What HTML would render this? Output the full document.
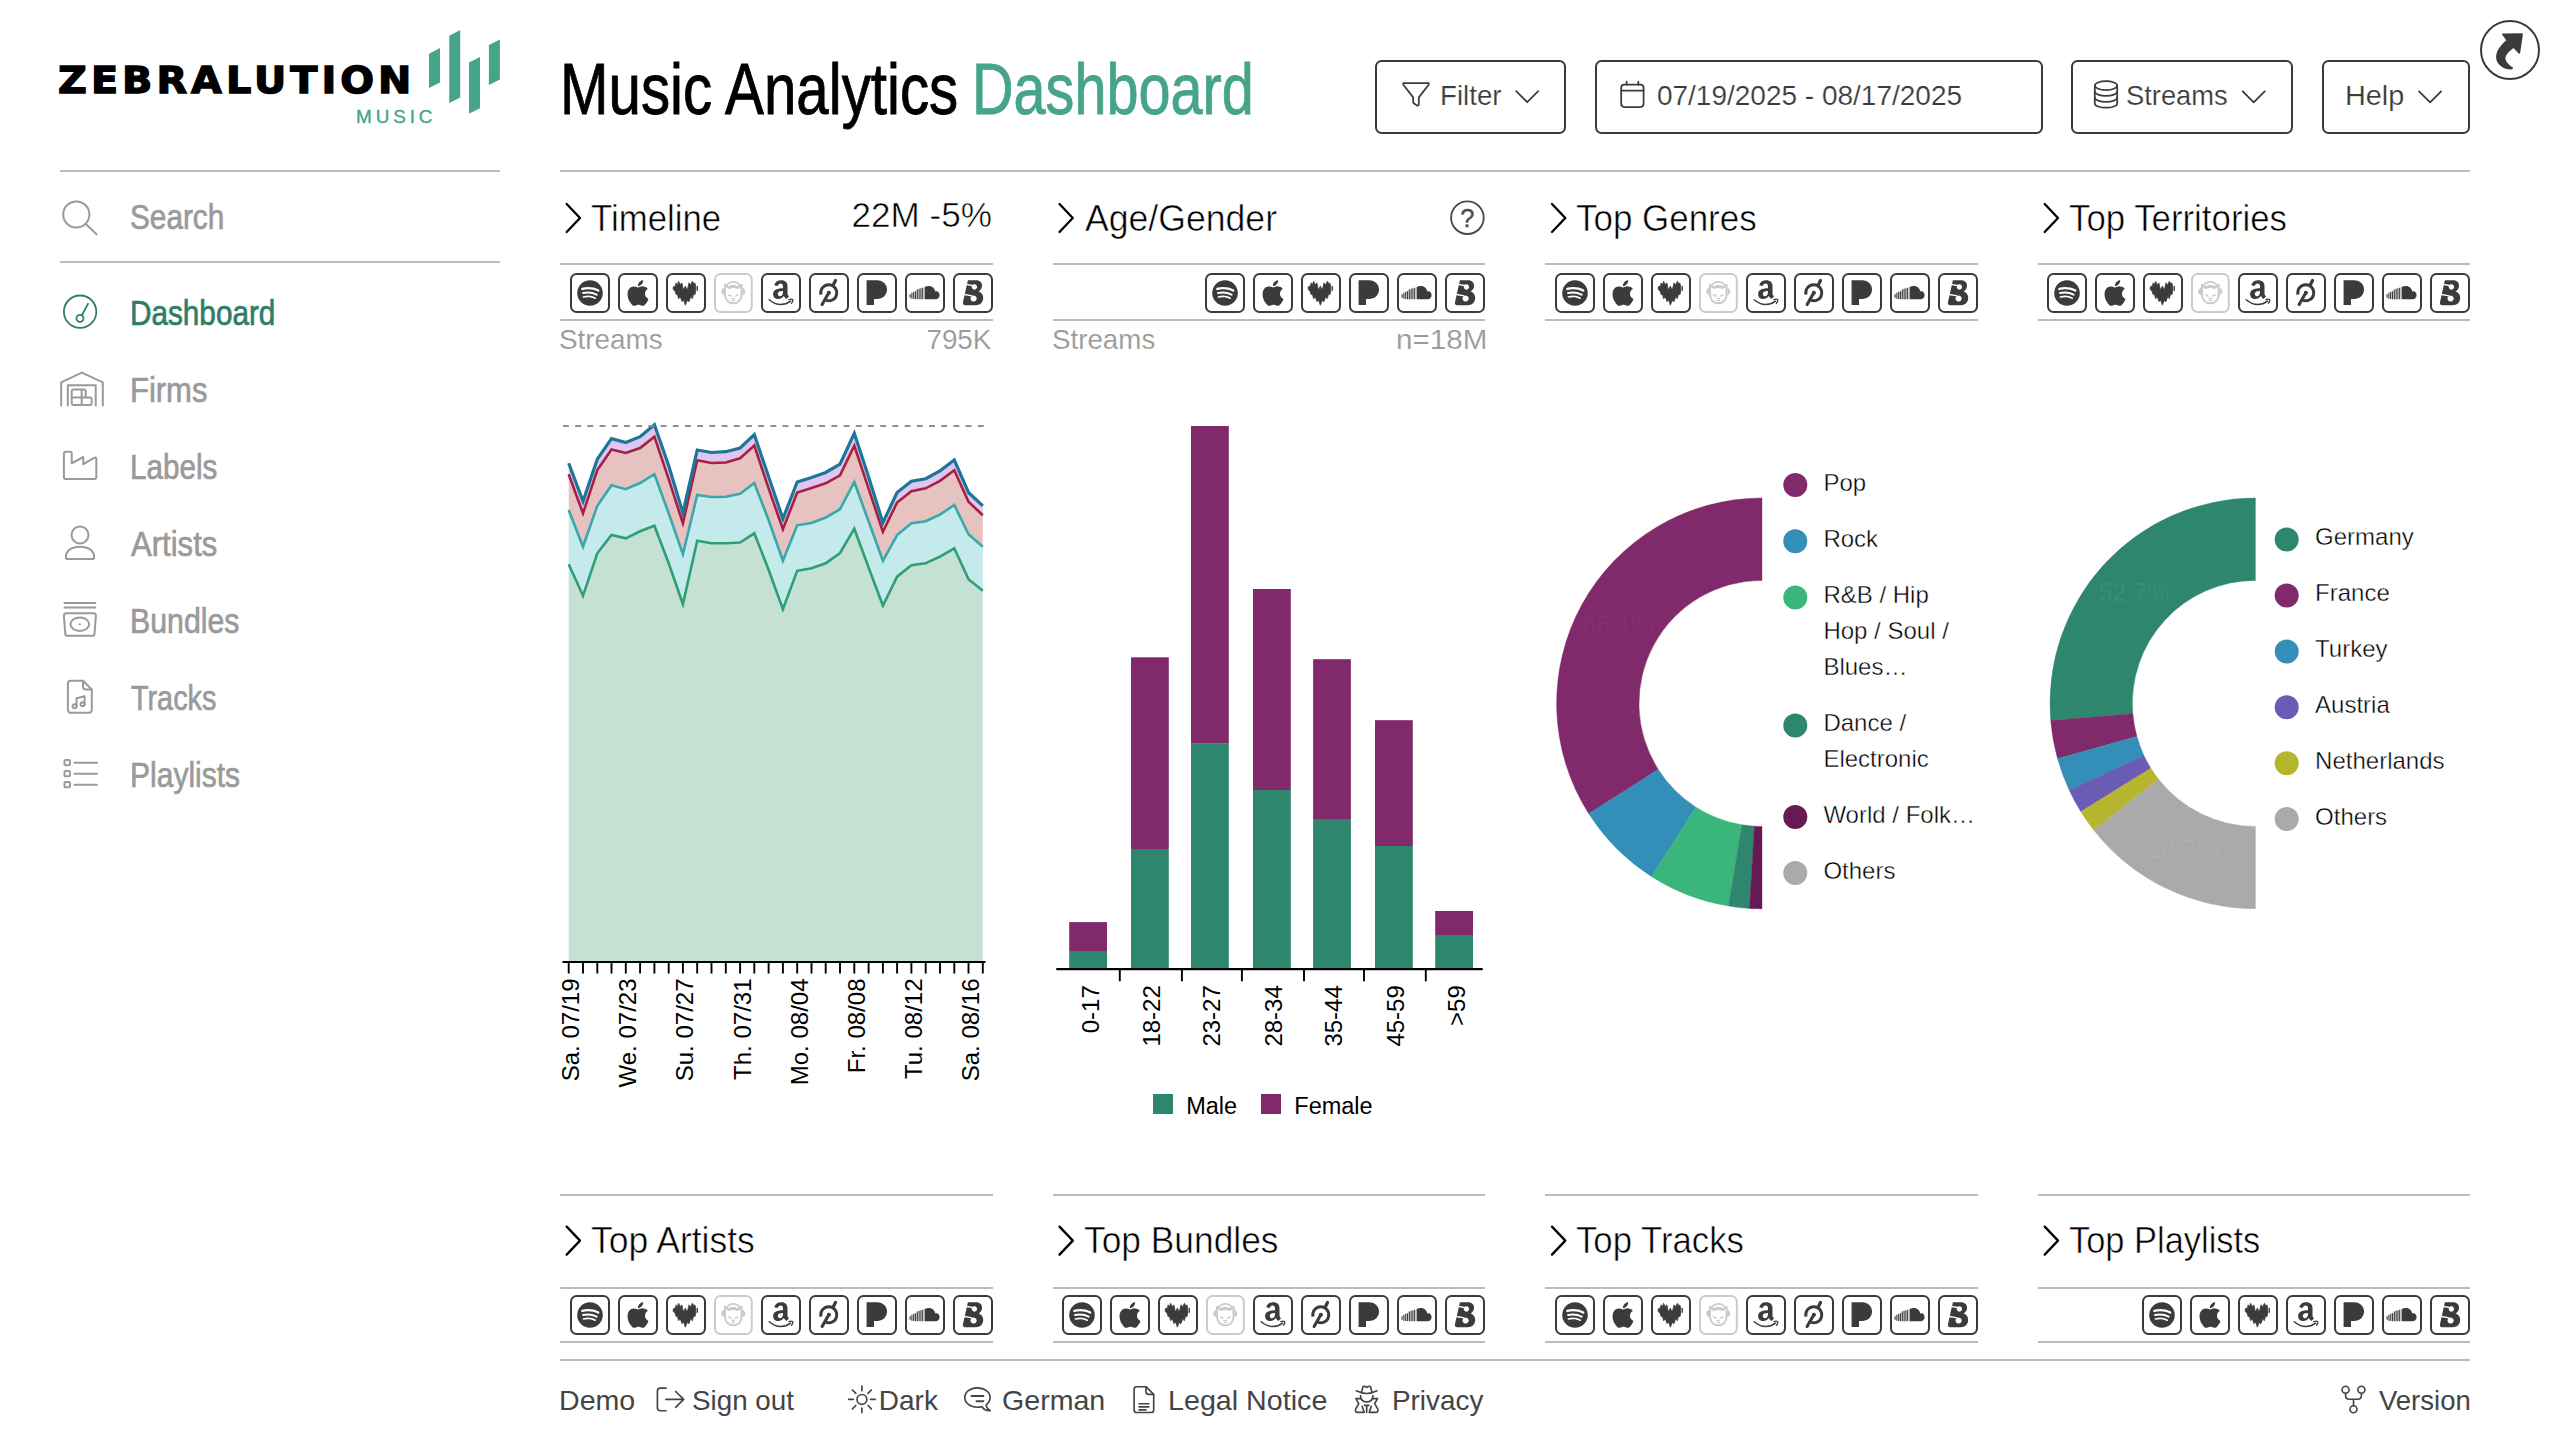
<!DOCTYPE html>
<html lang="en"><head><meta charset="utf-8"><title>Music Analytics Dashboard</title>
<style>
html,body{margin:0;padding:0}
body{width:2560px;height:1440px;position:relative;overflow:hidden;background:#fff;font-family:"Liberation Sans",sans-serif;color:#000}
aside,header,main,footer,section,nav{position:absolute;left:0;top:0;margin:0}
.hl{position:absolute}
.svc{position:absolute;display:block}
.btn{position:absolute;box-sizing:border-box;border:2px solid #3b3b3b;border-radius:6.500px;background:transparent;top:60px;height:74px}
svg.ov{position:absolute;left:0;top:0;display:block}
.logo{position:absolute;left:58.000px;top:58.700px;font-family:"DejaVu Sans","Liberation Sans",sans-serif;font-weight:bold;font-size:36.500px;line-height:44px;letter-spacing:3.700px;-webkit-text-stroke:1.300px #000;transform:scaleX(1.090);transform-origin:left center;white-space:nowrap;color:#000}
.logo2{position:absolute;left:356px;top:106.500px;font-size:18.900px;line-height:19px;letter-spacing:3.900px;color:#46a48b;white-space:nowrap;-webkit-text-stroke:.35px #46a48b}
</style></head><body>
<svg class="ov" width="2560" height="1440" viewBox="0 0 2560 1440">
<polygon points="568.7,564.2 583.0,595.8 597.3,553.3 611.5,535.0 625.8,538.3 640.1,531.3 654.4,525.8 668.7,563.3 682.9,604.2 697.2,540.8 711.5,543.3 725.8,543.3 740.1,542.5 754.3,533.3 768.6,569.7 782.9,609.2 797.2,570.8 811.5,568.3 825.7,563.3 840.0,553.0 854.3,528.7 868.6,567.5 882.9,605.8 897.1,576.7 911.4,565.3 925.7,563.3 940.0,556.7 954.3,548.3 968.5,579.2 982.8,590.8 982.8,961.5 568.7,961.5" fill="#c5e1d3"/>
<polygon points="568.7,510.0 583.0,546.7 597.3,505.8 611.5,485.3 625.8,489.2 640.1,483.0 654.4,474.2 668.7,513.3 682.9,554.2 697.2,495.0 711.5,497.0 725.8,496.7 740.1,493.8 754.3,483.0 768.6,520.0 782.9,560.8 797.2,525.3 811.5,523.0 825.7,517.5 840.0,509.2 854.3,482.0 868.6,521.3 882.9,560.8 897.1,535.0 911.4,523.3 925.7,521.3 940.0,514.7 954.3,505.0 968.5,534.2 982.8,546.7 982.8,590.8 968.5,579.2 954.3,548.3 940.0,556.7 925.7,563.3 911.4,565.3 897.1,576.7 882.9,605.8 868.6,567.5 854.3,528.7 840.0,553.0 825.7,563.3 811.5,568.3 797.2,570.8 782.9,609.2 768.6,569.7 754.3,533.3 740.1,542.5 725.8,543.3 711.5,543.3 697.2,540.8 682.9,604.2 668.7,563.3 654.4,525.8 640.1,531.3 625.8,538.3 611.5,535.0 597.3,553.3 583.0,595.8 568.7,564.2" fill="#c4eaec"/>
<polygon points="568.7,474.2 583.0,513.3 597.3,470.0 611.5,449.5 625.8,453.0 640.1,448.0 654.4,436.7 668.7,479.2 682.9,523.3 697.2,460.3 711.5,463.0 725.8,462.5 740.1,458.3 754.3,445.5 768.6,488.3 782.9,529.2 797.2,492.5 811.5,488.0 825.7,483.3 840.0,475.3 854.3,445.8 868.6,488.7 882.9,531.7 897.1,502.5 911.4,491.3 925.7,488.3 940.0,480.8 954.3,470.3 968.5,501.7 982.8,515.3 982.8,546.7 968.5,534.2 954.3,505.0 940.0,514.7 925.7,521.3 911.4,523.3 897.1,535.0 882.9,560.8 868.6,521.3 854.3,482.0 840.0,509.2 825.7,517.5 811.5,523.0 797.2,525.3 782.9,560.8 768.6,520.0 754.3,483.0 740.1,493.8 725.8,496.7 711.5,497.0 697.2,495.0 682.9,554.2 668.7,513.3 654.4,474.2 640.1,483.0 625.8,489.2 611.5,485.3 597.3,505.8 583.0,546.7 568.7,510.0" fill="#e6c3c1"/>
<polygon points="568.7,463.3 583.0,501.3 597.3,459.2 611.5,438.7 625.8,442.5 640.1,436.7 654.4,424.7 668.7,465.8 682.9,513.0 697.2,450.0 711.5,452.5 725.8,451.7 740.1,448.0 754.3,434.7 768.6,476.7 782.9,518.8 797.2,482.0 811.5,477.5 825.7,472.5 840.0,464.2 854.3,433.3 868.6,477.0 882.9,522.7 897.1,492.5 911.4,481.3 925.7,478.7 940.0,470.8 954.3,460.0 968.5,492.5 982.8,505.8 982.8,515.3 968.5,501.7 954.3,470.3 940.0,480.8 925.7,488.3 911.4,491.3 897.1,502.5 882.9,531.7 868.6,488.7 854.3,445.8 840.0,475.3 825.7,483.3 811.5,488.0 797.2,492.5 782.9,529.2 768.6,488.3 754.3,445.5 740.1,458.3 725.8,462.5 711.5,463.0 697.2,460.3 682.9,523.3 668.7,479.2 654.4,436.7 640.1,448.0 625.8,453.0 611.5,449.5 597.3,470.0 583.0,513.3 568.7,474.2" fill="#dfc6f0"/>
<polyline points="568.7,564.2 583.0,595.8 597.3,553.3 611.5,535.0 625.8,538.3 640.1,531.3 654.4,525.8 668.7,563.3 682.9,604.2 697.2,540.8 711.5,543.3 725.8,543.3 740.1,542.5 754.3,533.3 768.6,569.7 782.9,609.2 797.2,570.8 811.5,568.3 825.7,563.3 840.0,553.0 854.3,528.7 868.6,567.5 882.9,605.8 897.1,576.7 911.4,565.3 925.7,563.3 940.0,556.7 954.3,548.3 968.5,579.2 982.8,590.8" fill="none" stroke="#2f9e74" stroke-width="2.600"/>
<polyline points="568.7,510.0 583.0,546.7 597.3,505.8 611.5,485.3 625.8,489.2 640.1,483.0 654.4,474.2 668.7,513.3 682.9,554.2 697.2,495.0 711.5,497.0 725.8,496.7 740.1,493.8 754.3,483.0 768.6,520.0 782.9,560.8 797.2,525.3 811.5,523.0 825.7,517.5 840.0,509.2 854.3,482.0 868.6,521.3 882.9,560.8 897.1,535.0 911.4,523.3 925.7,521.3 940.0,514.7 954.3,505.0 968.5,534.2 982.8,546.7" fill="none" stroke="#3aa7ab" stroke-width="2.600"/>
<polyline points="568.7,474.2 583.0,513.3 597.3,470.0 611.5,449.5 625.8,453.0 640.1,448.0 654.4,436.7 668.7,479.2 682.9,523.3 697.2,460.3 711.5,463.0 725.8,462.5 740.1,458.3 754.3,445.5 768.6,488.3 782.9,529.2 797.2,492.5 811.5,488.0 825.7,483.3 840.0,475.3 854.3,445.8 868.6,488.7 882.9,531.7 897.1,502.5 911.4,491.3 925.7,488.3 940.0,480.8 954.3,470.3 968.5,501.7 982.8,515.3" fill="none" stroke="#a5213f" stroke-width="2.600"/>
<polyline points="568.7,463.3 583.0,501.3 597.3,459.2 611.5,438.7 625.8,442.5 640.1,436.7 654.4,424.7 668.7,465.8 682.9,513.0 697.2,450.0 711.5,452.5 725.8,451.7 740.1,448.0 754.3,434.7 768.6,476.7 782.9,518.8 797.2,482.0 811.5,477.5 825.7,472.5 840.0,464.2 854.3,433.3 868.6,477.0 882.9,522.7 897.1,492.5 911.4,481.3 925.7,478.7 940.0,470.8 954.3,460.0 968.5,492.5 982.8,505.8" fill="none" stroke="#1f7597" stroke-width="3.200"/>
<path d="M563 426H986" stroke="#8f8f8f" stroke-width="1.900" stroke-dasharray="5.900 6.300" fill="none"/>
<path d="M562.500 962H985.500" stroke="#000" stroke-width="2.200" fill="none"/>
<path d="M568.7 962V973.500M583.0 962V973.500M597.3 962V973.500M611.5 962V973.500M625.8 962V973.500M640.1 962V973.500M654.4 962V973.500M668.7 962V973.500M682.9 962V973.500M697.2 962V973.500M711.5 962V973.500M725.8 962V973.500M740.1 962V973.500M754.3 962V973.500M768.6 962V973.500M782.9 962V973.500M797.2 962V973.500M811.5 962V973.500M825.7 962V973.500M840.0 962V973.500M854.3 962V973.500M868.6 962V973.500M882.9 962V973.500M897.1 962V973.500M911.4 962V973.500M925.7 962V973.500M940.0 962V973.500M954.3 962V973.500M968.5 962V973.500M982.8 962V973.500" stroke="#000" stroke-width="1.900" fill="none"/>
<text transform="translate(579.2 978.500) rotate(-90)" text-anchor="end" font-size="24" font-family="Liberation Sans, sans-serif" fill="#000">Sa. 07/19</text>
<text transform="translate(636.3 978.500) rotate(-90)" text-anchor="end" font-size="24" font-family="Liberation Sans, sans-serif" fill="#000">We. 07/23</text>
<text transform="translate(693.4 978.500) rotate(-90)" text-anchor="end" font-size="24" font-family="Liberation Sans, sans-serif" fill="#000">Su. 07/27</text>
<text transform="translate(750.6 978.500) rotate(-90)" text-anchor="end" font-size="24" font-family="Liberation Sans, sans-serif" fill="#000">Th. 07/31</text>
<text transform="translate(807.7 978.500) rotate(-90)" text-anchor="end" font-size="24" font-family="Liberation Sans, sans-serif" fill="#000">Mo. 08/04</text>
<text transform="translate(864.8 978.500) rotate(-90)" text-anchor="end" font-size="24" font-family="Liberation Sans, sans-serif" fill="#000">Fr. 08/08</text>
<text transform="translate(921.9 978.500) rotate(-90)" text-anchor="end" font-size="24" font-family="Liberation Sans, sans-serif" fill="#000">Tu. 08/12</text>
<text transform="translate(979.0 978.500) rotate(-90)" text-anchor="end" font-size="24" font-family="Liberation Sans, sans-serif" fill="#000">Sa. 08/16</text>
<rect x="1069.2" y="922.1" width="37.800" height="28.9" fill="#80296b"/>
<rect x="1069.2" y="951.0" width="37.800" height="17.3" fill="#2e866f"/>
<rect x="1131.0" y="657.3" width="37.800" height="191.7" fill="#80296b"/>
<rect x="1131.0" y="849.0" width="37.800" height="119.3" fill="#2e866f"/>
<rect x="1191.0" y="426.0" width="37.800" height="317.1" fill="#80296b"/>
<rect x="1191.0" y="743.1" width="37.800" height="225.2" fill="#2e866f"/>
<rect x="1253.0" y="589.0" width="37.800" height="201.0" fill="#80296b"/>
<rect x="1253.0" y="790.0" width="37.800" height="178.3" fill="#2e866f"/>
<rect x="1313.1" y="659.2" width="37.800" height="159.8" fill="#80296b"/>
<rect x="1313.1" y="819.0" width="37.800" height="149.3" fill="#2e866f"/>
<rect x="1375.0" y="720.2" width="37.800" height="125.8" fill="#80296b"/>
<rect x="1375.0" y="846.0" width="37.800" height="122.3" fill="#2e866f"/>
<rect x="1435.2" y="911.0" width="37.800" height="24.0" fill="#80296b"/>
<rect x="1435.2" y="935.0" width="37.800" height="33.3" fill="#2e866f"/>
<path d="M1056.300 969.200H1482.700" stroke="#000" stroke-width="2.200" fill="none"/>
<path d="M1119.8 969V981.300M1181.9 969V981.300M1241.9 969V981.300M1304.0 969V981.300M1364.0 969V981.300M1425.8 969V981.300" stroke="#000" stroke-width="1.900" fill="none"/>
<text transform="translate(1098.5 985.200) rotate(-90)" text-anchor="end" font-size="24" font-family="Liberation Sans, sans-serif" fill="#000">0-17</text>
<text transform="translate(1160.3 985.200) rotate(-90)" text-anchor="end" font-size="24" font-family="Liberation Sans, sans-serif" fill="#000">18-22</text>
<text transform="translate(1220.3 985.200) rotate(-90)" text-anchor="end" font-size="24" font-family="Liberation Sans, sans-serif" fill="#000">23-27</text>
<text transform="translate(1282.3 985.200) rotate(-90)" text-anchor="end" font-size="24" font-family="Liberation Sans, sans-serif" fill="#000">28-34</text>
<text transform="translate(1342.4 985.200) rotate(-90)" text-anchor="end" font-size="24" font-family="Liberation Sans, sans-serif" fill="#000">35-44</text>
<text transform="translate(1404.3 985.200) rotate(-90)" text-anchor="end" font-size="24" font-family="Liberation Sans, sans-serif" fill="#000">45-59</text>
<text transform="translate(1464.5 985.200) rotate(-90)" text-anchor="end" font-size="24" font-family="Liberation Sans, sans-serif" fill="#000">&gt;59</text>
<rect x="1153" y="1094" width="20" height="20" fill="#2e866f"/>
<text x="1186.200" y="1113.600" font-size="23.500" font-family="Liberation Sans, sans-serif" fill="#000">Male</text>
<rect x="1261" y="1094" width="20" height="20" fill="#80296b"/>
<text x="1294.300" y="1113.600" font-size="23.500" font-family="Liberation Sans, sans-serif" fill="#000">Female</text>
<path d="M1762.00 498.00A205.4 205.4 0 0 0 1588.77 813.76L1658.26 769.49A123 123 0 0 1 1762.00 580.40Z" fill="#80296b" stroke="#80296b" stroke-width=".4"/>
<path d="M1588.77 813.76A205.4 205.4 0 0 0 1651.64 876.63L1695.91 807.14A123 123 0 0 1 1658.26 769.49Z" fill="#338fb8" stroke="#338fb8" stroke-width=".4"/>
<path d="M1651.64 876.63A205.4 205.4 0 0 0 1728.45 906.04L1741.91 824.75A123 123 0 0 1 1695.91 807.14Z" fill="#3ab67b" stroke="#3ab67b" stroke-width=".4"/>
<path d="M1728.45 906.04A205.4 205.4 0 0 0 1749.46 908.42L1754.49 826.17A123 123 0 0 1 1741.91 824.75Z" fill="#2e866f" stroke="#2e866f" stroke-width=".4"/>
<path d="M1749.46 908.42A205.4 205.4 0 0 0 1762.00 908.80L1762.00 826.40A123 123 0 0 1 1754.49 826.17Z" fill="#661a53" stroke="#661a53" stroke-width=".4"/>
<text x="1618" y="633" font-size="25" text-anchor="middle" font-family="Liberation Sans, sans-serif" fill="#fff" fill-opacity=".05">68.1%</text>
<text x="1642" y="829" font-size="25" text-anchor="middle" font-family="Liberation Sans, sans-serif" fill="#fff" fill-opacity=".02">13.9%</text>
<circle cx="1795.3" cy="485.1" r="12" fill="#80296b"/>
<text x="1823.4" y="490.7" font-size="24" font-family="Liberation Sans, sans-serif" fill="#000" stroke="#fff" stroke-width=".4">Pop</text>
<circle cx="1795.3" cy="541.3" r="12" fill="#338fb8"/>
<text x="1823.4" y="546.9" font-size="24" font-family="Liberation Sans, sans-serif" fill="#000" stroke="#fff" stroke-width=".4">Rock</text>
<circle cx="1795.3" cy="597.5" r="12" fill="#3ab67b"/>
<text x="1823.4" y="603.1" font-size="24" font-family="Liberation Sans, sans-serif" fill="#000" stroke="#fff" stroke-width=".4">R&amp;B / Hip</text>
<text x="1823.4" y="639.1" font-size="24" font-family="Liberation Sans, sans-serif" fill="#000" stroke="#fff" stroke-width=".4">Hop / Soul /</text>
<text x="1823.4" y="675.1" font-size="24" font-family="Liberation Sans, sans-serif" fill="#000" stroke="#fff" stroke-width=".4">Blues…</text>
<circle cx="1795.3" cy="725.4" r="12" fill="#2e866f"/>
<text x="1823.4" y="731.0" font-size="24" font-family="Liberation Sans, sans-serif" fill="#000" stroke="#fff" stroke-width=".4">Dance /</text>
<text x="1823.4" y="767.0" font-size="24" font-family="Liberation Sans, sans-serif" fill="#000" stroke="#fff" stroke-width=".4">Electronic</text>
<circle cx="1795.3" cy="816.9" r="12" fill="#661a53"/>
<text x="1823.4" y="822.5" font-size="24" font-family="Liberation Sans, sans-serif" fill="#000" stroke="#fff" stroke-width=".4">World / Folk…</text>
<circle cx="1795.3" cy="873.1" r="12" fill="#aaaaaa"/>
<text x="1823.4" y="878.7" font-size="24" font-family="Liberation Sans, sans-serif" fill="#000" stroke="#fff" stroke-width=".4">Others</text>
<path d="M2255.40 498.00A205.4 205.4 0 0 0 2050.72 720.59L2132.83 713.69A123 123 0 0 1 2255.40 580.40Z" fill="#2e866f" stroke="#2e866f" stroke-width=".4"/>
<path d="M2050.72 720.59A205.4 205.4 0 0 0 2057.57 758.64L2136.93 736.48A123 123 0 0 1 2132.83 713.69Z" fill="#80296b" stroke="#80296b" stroke-width=".4"/>
<path d="M2057.57 758.64A205.4 205.4 0 0 0 2069.24 790.21L2143.92 755.38A123 123 0 0 1 2136.93 736.48Z" fill="#338fb8" stroke="#338fb8" stroke-width=".4"/>
<path d="M2069.24 790.21A205.4 205.4 0 0 0 2080.83 811.64L2150.86 768.22A123 123 0 0 1 2143.92 755.38Z" fill="#6a5cb5" stroke="#6a5cb5" stroke-width=".4"/>
<path d="M2080.83 811.64A205.4 205.4 0 0 0 2093.76 830.14L2158.61 779.30A123 123 0 0 1 2150.86 768.22Z" fill="#b5b52e" stroke="#b5b52e" stroke-width=".4"/>
<path d="M2093.76 830.14A205.4 205.4 0 0 0 2255.40 908.80L2255.40 826.40A123 123 0 0 1 2158.61 779.30Z" fill="#aaaaaa" stroke="#aaaaaa" stroke-width=".4"/>
<text x="2134" y="601" font-size="25" text-anchor="middle" font-family="Liberation Sans, sans-serif" fill="#fff" fill-opacity=".06">52.7%</text>
<text x="2183" y="858" font-size="25" text-anchor="middle" font-family="Liberation Sans, sans-serif" fill="#fff" fill-opacity=".06">28.7%</text>
<circle cx="2286.7" cy="539.6" r="12" fill="#2e866f"/>
<text x="2315.1" y="545.2" font-size="24" font-family="Liberation Sans, sans-serif" fill="#000" stroke="#fff" stroke-width=".4">Germany</text>
<circle cx="2286.7" cy="595.5" r="12" fill="#80296b"/>
<text x="2315.1" y="601.1" font-size="24" font-family="Liberation Sans, sans-serif" fill="#000" stroke="#fff" stroke-width=".4">France</text>
<circle cx="2286.7" cy="651.4" r="12" fill="#338fb8"/>
<text x="2315.1" y="657.0" font-size="24" font-family="Liberation Sans, sans-serif" fill="#000" stroke="#fff" stroke-width=".4">Turkey</text>
<circle cx="2286.7" cy="707.3" r="12" fill="#6a5cb5"/>
<text x="2315.1" y="712.9" font-size="24" font-family="Liberation Sans, sans-serif" fill="#000" stroke="#fff" stroke-width=".4">Austria</text>
<circle cx="2286.7" cy="763.2" r="12" fill="#b5b52e"/>
<text x="2315.1" y="768.8" font-size="24" font-family="Liberation Sans, sans-serif" fill="#000" stroke="#fff" stroke-width=".4">Netherlands</text>
<circle cx="2286.7" cy="819.1" r="12" fill="#aaaaaa"/>
<text x="2315.1" y="824.7" font-size="24" font-family="Liberation Sans, sans-serif" fill="#000" stroke="#fff" stroke-width=".4">Others</text>
<polygon points="429,53.75 440,48 440,82.5 429,88" fill="#46a48b"/>
<polygon points="449.25,35.75 460.25,30 460.25,97.5 449.25,103" fill="#46a48b"/>
<polygon points="469,62.5 480,57 480,108.25 469,113.75" fill="#46a48b"/>
<polygon points="488.9,45 499.9,39.5 499.9,79.5 488.9,85" fill="#46a48b"/>
<g fill="none" stroke="#9a9a9a" stroke-width="2" stroke-linecap="round" stroke-linejoin="round"><circle cx="76.300" cy="214.500" r="13.100"/><path d="M85.800 224.100L96.600 234.200"/></g>
<g fill="none" stroke="#2e7d68" stroke-width="1.800" stroke-linecap="round"><circle cx="80.100" cy="311.700" r="16.200"/><path d="M88 303.800L82 315"/><circle cx="80" cy="318.300" r="3.500"/></g>
<g fill="none" stroke="#9a9a9a" stroke-width="2" stroke-linecap="round" stroke-linejoin="round"><path d="M61.200 405.500V382.300L81.800 372.600L102.800 382.300V405.500"/><path d="M67.800 405.500V385.200H95.700V405.500"/><path d="M81.700 389.500V405M71.700 397.500H89.700a2 2 0 0 1 2 2V403a2 2 0 0 1-2 2H73.700a2 2 0 0 1-2-2V391.500a2 2 0 0 1 2-2H83.700a2 2 0 0 1 2 2V397.500"/></g>
<g fill="none" stroke="#9a9a9a" stroke-width="2" stroke-linecap="round" stroke-linejoin="round"><path d="M65.900 451.700H70.200a1.500 1.500 0 0 1 1.500 1.500V463.300L83.300 457V464.200L94.500 457.600a1.200 1.200 0 0 1 1.800 1V477.100a2 2 0 0 1-2 2H65.900a2 2 0 0 1-2-2V453.700a2 2 0 0 1 2-2Z"/></g>
<g fill="none" stroke="#9a9a9a" stroke-width="2" stroke-linecap="round" stroke-linejoin="round"><circle cx="80" cy="535" r="8.500"/><path d="M65.900 557.200C65.900 551 71 546.700 80 546.700S94.100 551 94.100 557.200a1.800 1.800 0 0 1-1.800 1.800H67.700a1.800 1.800 0 0 1-1.800-1.800Z"/></g>
<g fill="none" stroke="#9a9a9a" stroke-width="2" stroke-linecap="round" stroke-linejoin="round"><path d="M64.500 603.100H95.300M64.500 607.600H95.300"/><path d="M66.100 613.300H93.700a2.200 2.200 0 0 1 2.200 2.400L94.500 633.800a2.200 2.200 0 0 1-2.200 2H67.500a2.200 2.200 0 0 1-2.200-2L63.900 615.700a2.200 2.200 0 0 1 2.200-2.400Z"/><ellipse cx="79.800" cy="624.300" rx="9.300" ry="6.700"/></g><circle cx="79.800" cy="624.300" r="1.100" fill="#9a9a9a"/>
<g fill="none" stroke="#9a9a9a" stroke-width="2" stroke-linecap="round" stroke-linejoin="round"><path d="M70.900 680.700H83L91.800 689.500V709.800a3 3 0 0 1-3 3H70.900a3 3 0 0 1-3-3V683.700a3 3 0 0 1 3-3Z"/><path d="M83 680.700V686.500a3 3 0 0 0 3 3H91.800"/><circle cx="74.600" cy="706.300" r="2"/><circle cx="82.600" cy="704.200" r="2"/><path d="M76.600 706.300V698.300L84.600 696.200V704.200"/></g>
<g fill="none" stroke="#9a9a9a" stroke-width="2" stroke-linecap="round" stroke-linejoin="round"><rect x="64.500" y="759.9" width="5.400" height="5.400" rx="1"/><path d="M74.500 762.7H97"/><rect x="64.500" y="770.9" width="5.400" height="5.400" rx="1"/><path d="M74.500 773.7H97"/><rect x="64.500" y="781.9" width="5.400" height="5.400" rx="1"/><path d="M74.500 784.7H97"/></g>
<g fill="none" stroke="#3b3b3b" stroke-width="1.750" stroke-linecap="round" stroke-linejoin="round"><path d="M1404.200 83H1427.800a1.100 1.100 0 0 1 .9 1.800L1418.800 97.400V104.600a1.100 1.100 0 0 1-1.700 .9L1413.700 103.200a1.100 1.100 0 0 1-.5-.9V97.400L1403.300 84.800a1.100 1.100 0 0 1 .9-1.800Z"/></g>
<path d="M1516.2 91.2L1527.2 102.2L1538.2 91.2" fill="none" stroke="#3b3b3b" stroke-width="1.800" stroke-linecap="round" stroke-linejoin="round"/>
<g fill="none" stroke="#3b3b3b" stroke-width="1.750" stroke-linecap="round" stroke-linejoin="round"><rect x="1621.200" y="84.600" width="22.400" height="22.400" rx="3.200"/><path d="M1621.200 90.600H1643.600M1626.600 81.600V84.600M1638.300 81.600V84.600"/></g>
<g fill="none" stroke="#3b3b3b" stroke-width="1.750" stroke-linecap="round" stroke-linejoin="round"><ellipse cx="2106" cy="85.600" rx="11.200" ry="4.400"/><path d="M2094.800 85.600V103.400C2094.800 105.800 2099.800 107.700 2106 107.700S2117.200 105.800 2117.200 103.400V85.600"/><path d="M2094.800 91.500C2094.800 93.900 2099.800 95.900 2106 95.900S2117.200 93.900 2117.200 91.500M2094.800 97.500C2094.800 99.900 2099.800 101.900 2106 101.900S2117.200 99.900 2117.200 97.500"/></g>
<path d="M2242.7000000000003 91.4L2253.7000000000003 102.4L2264.7000000000003 91.4" fill="none" stroke="#3b3b3b" stroke-width="1.800" stroke-linecap="round" stroke-linejoin="round"/>
<path d="M2419.1 91.4L2430.1 102.4L2441.1 91.4" fill="none" stroke="#3b3b3b" stroke-width="1.800" stroke-linecap="round" stroke-linejoin="round"/>
<circle cx="2510" cy="50" r="29" fill="#fff" stroke="#3b3b3b" stroke-width="2"/>
<path d="M2502.600 33.500L2522 33.200Q2523 33.200 2522.900 34.200L2520.200 52.800Q2519.600 54.400 2518.400 53.300L2513.500 47.900C2507.500 52.500 2504.800 56 2505.600 59.500C2506.300 62.800 2509.300 65.300 2512.600 67.200C2513.400 68.300 2512.700 69.500 2511.300 69.500C2502 69.300 2496 63.500 2496.100 57C2496.200 50.500 2501 45 2506.200 40.300L2502.100 34.600Q2501.700 33.600 2502.600 33.500Z" fill="#3b3b3b"/>
<path d="M566.7 204L580.0 218L566.7 232" fill="none" stroke="#000" stroke-width="2.300" stroke-linecap="round" stroke-linejoin="round"/>
<path d="M566.7 1226.6L580.0 1240.6L566.7 1254.6" fill="none" stroke="#000" stroke-width="2.300" stroke-linecap="round" stroke-linejoin="round"/>
<path d="M1059.5 204L1072.8 218L1059.5 232" fill="none" stroke="#000" stroke-width="2.300" stroke-linecap="round" stroke-linejoin="round"/>
<path d="M1059.5 1226.6L1072.8 1240.6L1059.5 1254.6" fill="none" stroke="#000" stroke-width="2.300" stroke-linecap="round" stroke-linejoin="round"/>
<path d="M1552 204L1565.3 218L1552 232" fill="none" stroke="#000" stroke-width="2.300" stroke-linecap="round" stroke-linejoin="round"/>
<path d="M1552 1226.6L1565.3 1240.6L1552 1254.6" fill="none" stroke="#000" stroke-width="2.300" stroke-linecap="round" stroke-linejoin="round"/>
<path d="M2044.7 204L2058.0 218L2044.7 232" fill="none" stroke="#000" stroke-width="2.300" stroke-linecap="round" stroke-linejoin="round"/>
<path d="M2044.7 1226.6L2058.0 1240.6L2044.7 1254.6" fill="none" stroke="#000" stroke-width="2.300" stroke-linecap="round" stroke-linejoin="round"/>
<circle cx="1467.400" cy="217.700" r="16.300" fill="none" stroke="#4a4a4a" stroke-width="1.900"/>
<text x="1467.400" y="226.700" font-size="25.500" text-anchor="middle" font-family="Liberation Sans, sans-serif" fill="#4a4a4a" stroke="#4a4a4a" stroke-width=".3">?</text>
<g fill="none" stroke="#444" stroke-width="1.650" stroke-linecap="round" stroke-linejoin="round"><path d="M666.100 1388.100H660.400a3 3 0 0 0-3 3V1407.700a3 3 0 0 0 3 3H666.100"/><path d="M665.800 1399.400H683.400M675.700 1391.500L683.700 1399.400L675.700 1407.300"/></g>
<g fill="none" stroke="#444" stroke-width="1.650" stroke-linecap="round" stroke-linejoin="round"><circle cx="861.900" cy="1399.400" r="4.900"/><path d="M870.5 1399.4L875.2 1399.4M868.0 1405.5L871.3 1408.8M861.9 1408.0L861.9 1412.7M855.8 1405.5L852.5 1408.8M853.3 1399.4L848.6 1399.4M855.8 1393.3L852.5 1390.0M861.9 1390.8L861.9 1386.1M868.0 1393.3L871.3 1390.0"/></g>
<g fill="none" stroke="#444" stroke-width="1.650" stroke-linecap="round" stroke-linejoin="round"><path d="M977.300 1387.900C984.500 1387.900 990.100 1392.100 990.100 1397.500C990.100 1400.500 988.500 1403 986.100 1404.800C986.500 1407 988 1409.300 990.300 1410.600C986.900 1410.900 983.800 1409.500 982 1406.700C980.500 1407 978.900 1407.200 977.300 1407.200C970.200 1407.200 964.800 1403 964.800 1397.500S970.200 1387.900 977.300 1387.900Z"/><path d="M971.500 1396H983.500M976.500 1401.200H983.500" stroke-width="1.900"/></g>
<g fill="none" stroke="#444" stroke-width="1.650" stroke-linecap="round" stroke-linejoin="round"><path d="M1136.700 1386.700H1146L1153.700 1394.400V1409.900a2.600 2.600 0 0 1-2.600 2.600H1136.700a2.600 2.600 0 0 1-2.600-2.600V1389.300a2.600 2.600 0 0 1 2.600-2.600Z"/><path d="M1146 1386.700V1391.800a2.600 2.600 0 0 0 2.600 2.600H1153.700"/><path d="M1139 1403.700H1148.800M1139 1406.800H1148.800M1139 1409.800H1146"/></g>
<g fill="none" stroke="#444" stroke-width="1.650" stroke-linecap="round" stroke-linejoin="round"><path d="M1356.400 1390.800Q1366.700 1396.200 1376.900 1390.800"/><path d="M1361.500 1392.200L1363 1386.600Q1364.200 1385.600 1366.700 1387.300Q1369.200 1385.600 1370.400 1386.600L1372 1392.200"/><path d="M1360.500 1395.600C1360.500 1399.500 1363 1401.900 1366.700 1401.900C1370.400 1401.900 1372.900 1399.500 1372.900 1395.600"/><path d="M1360.600 1398.600H1355.900L1358.700 1403.700L1355.600 1409.200Q1354.900 1412.400 1357.600 1412.400H1364.200L1362.200 1406.300M1372.800 1398.600H1377.500L1374.700 1403.700L1377.800 1409.200Q1378.500 1412.400 1375.800 1412.400H1369.200L1371.200 1406.300"/><path d="M1364.500 1405.300H1368.900M1366.700 1405.300V1412.300"/></g>
<g fill="none" stroke="#444" stroke-width="1.650" stroke-linecap="round" stroke-linejoin="round"><circle cx="2345.600" cy="1389.700" r="3.500"/><circle cx="2361.400" cy="1389.700" r="3.500"/><circle cx="2353.500" cy="1409.200" r="3.500"/><path d="M2345.600 1393.300V1395.500Q2345.600 1399.200 2349.600 1399.200H2357.400Q2361.400 1399.200 2361.400 1395.500V1393.300M2353.500 1399.200V1405.600"/></g>
</svg>
<aside>
<div class="logo">ZEBRALUTION</div><div class="logo2">MUSIC</div>
<div class="hl" style="left:60px;top:170px;width:440px;height:2px;background:#bcbcbc"></div>
<span style="position:absolute;left:129.5px;transform-origin:left center;top:199.4px;font-size:35px;line-height:35px;color:#9a9a9a;white-space:nowrap;transform:scaleX(0.8502);-webkit-text-stroke:0.7px #9a9a9a;">Search</span>
<div class="hl" style="left:60px;top:261px;width:440px;height:2px;background:#bcbcbc"></div>
<nav>
<span style="position:absolute;left:129.6px;transform-origin:left center;top:295.1px;font-size:35px;line-height:35px;color:#2e7d68;white-space:nowrap;transform:scaleX(0.8490);-webkit-text-stroke:0.7px #2e7d68;">Dashboard</span>
<span style="position:absolute;left:129.5px;transform-origin:left center;top:372.3px;font-size:35px;line-height:35px;color:#9a9a9a;white-space:nowrap;transform:scaleX(0.8851);-webkit-text-stroke:0.7px #9a9a9a;">Firms</span>
<span style="position:absolute;left:129.6px;transform-origin:left center;top:449.4px;font-size:35px;line-height:35px;color:#9a9a9a;white-space:nowrap;transform:scaleX(0.8471);-webkit-text-stroke:0.7px #9a9a9a;">Labels</span>
<span style="position:absolute;left:131.1px;transform-origin:left center;top:526.3px;font-size:35px;line-height:35px;color:#9a9a9a;white-space:nowrap;transform:scaleX(0.8876);-webkit-text-stroke:0.7px #9a9a9a;">Artists</span>
<span style="position:absolute;left:129.6px;transform-origin:left center;top:603.4px;font-size:35px;line-height:35px;color:#9a9a9a;white-space:nowrap;transform:scaleX(0.8653);-webkit-text-stroke:0.7px #9a9a9a;">Bundles</span>
<span style="position:absolute;left:130.5px;transform-origin:left center;top:680.3px;font-size:35px;line-height:35px;color:#9a9a9a;white-space:nowrap;transform:scaleX(0.8230);-webkit-text-stroke:0.7px #9a9a9a;">Tracks</span>
<span style="position:absolute;left:129.6px;transform-origin:left center;top:757.2px;font-size:35px;line-height:35px;color:#9a9a9a;white-space:nowrap;transform:scaleX(0.8575);-webkit-text-stroke:0.7px #9a9a9a;">Playlists</span>
</nav></aside>
<header>
<h1 style="margin:0;font-weight:normal"><span style="position:absolute;left:560.1px;transform-origin:left center;top:53.9px;font-size:71.8px;line-height:71.8px;color:#000;white-space:nowrap;transform:scaleX(0.8113);-webkit-text-stroke:0.9px #000;">Music Analytics</span><span style="position:absolute;left:971.9px;transform-origin:left center;top:53.9px;font-size:71.8px;line-height:71.8px;color:#46a48b;white-space:nowrap;transform:scaleX(0.8021);-webkit-text-stroke:0.9px #46a48b;">Dashboard</span></h1>
<div class="btn" style="left:1375px;width:191.300px"></div>
<div class="btn" style="left:1595px;width:447.600px"></div>
<div class="btn" style="left:2071px;width:222.300px"></div>
<div class="btn" style="left:2322px;width:147.800px"></div>
<span style="position:absolute;left:1439.8px;transform-origin:left center;top:82.1px;font-size:28px;line-height:28px;color:#3b3b3b;white-space:nowrap;transform:scaleX(0.9882);-webkit-text-stroke:0.2px #fff;">Filter</span>
<span style="position:absolute;left:1656.9px;transform-origin:left center;top:82.1px;font-size:28px;line-height:28px;color:#3b3b3b;white-space:nowrap;-webkit-text-stroke:0.2px #fff;">07/19/2025 - 08/17/2025</span>
<span style="position:absolute;left:2126.1px;transform-origin:left center;top:82.1px;font-size:28px;line-height:28px;color:#3b3b3b;white-space:nowrap;transform:scaleX(0.9759);-webkit-text-stroke:0.2px #fff;">Streams</span>
<span style="position:absolute;left:2344.5px;transform-origin:left center;top:82.1px;font-size:28px;line-height:28px;color:#3b3b3b;white-space:nowrap;transform:scaleX(1.0299);-webkit-text-stroke:0.2px #fff;">Help</span>
<div class="hl" style="left:560px;top:170px;width:1910px;height:2px;background:#bcbcbc"></div>
</header>
<main>
<section>
<span style="position:absolute;left:591.4px;transform-origin:left center;top:200.9px;font-size:36px;line-height:36px;color:#000;white-space:nowrap;transform:scaleX(0.9660);-webkit-text-stroke:0.55px #fff;">Timeline</span>
<div class="hl" style="left:560px;top:263px;width:433px;height:2px;background:#bcbcbc"></div>
<svg class="svc" style="left:570.2px;top:273px" width="40" height="40" viewBox="0 0 40 40"><rect x="1" y="1" width="38" height="38" rx="5.500" fill="#fff" stroke="#3b3b3b" stroke-width="2"/><path transform="translate(7.2 7.2) scale(1.6)" fill="#3b3b3b" d="M8 0a8 8 0 1 0 0 16A8 8 0 0 0 8 0zm3.669 11.538a.498.498 0 0 1-.686.165c-1.879-1.147-4.243-1.407-7.028-.77a.499.499 0 0 1-.222-.973c3.048-.696 5.662-.397 7.77.892a.5.5 0 0 1 .166.686zm.979-2.178a.624.624 0 0 1-.858.205c-2.15-1.321-5.428-1.704-7.972-.932a.625.625 0 0 1-.362-1.194c2.905-.881 6.517-.454 8.986 1.063a.624.624 0 0 1 .206.858zm.084-2.268C10.154 5.56 5.9 5.419 3.438 6.166a.748.748 0 1 1-.434-1.432c2.825-.857 7.523-.692 10.492 1.07a.747.747 0 1 1-.764 1.288z"/></svg>
<svg class="svc" style="left:618.2px;top:273px" width="40" height="40" viewBox="0 0 40 40"><rect x="1" y="1" width="38" height="38" rx="5.500" fill="#fff" stroke="#3b3b3b" stroke-width="2"/><path transform="translate(7.2 7.2) scale(1.6)" fill="#3b3b3b" d="M11.182.008C11.148-.03 9.923.023 8.857 1.18c-1.066 1.156-.902 2.482-.878 2.516.024.034 1.52.087 2.475-1.258.955-1.345.762-2.391.728-2.43zm3.314 11.733c-.048-.096-2.325-1.234-2.113-3.422.212-2.189 1.675-2.789 1.698-2.854.023-.065-.597-.79-1.254-1.157a3.692 3.692 0 0 0-1.563-.434c-.108-.003-.483-.095-1.254.116-.508.139-1.653.589-1.968.607-.316.018-1.256-.522-2.267-.665-.647-.125-1.333.131-1.824.328-.49.196-1.422.754-2.074 2.237-.652 1.482-.311 3.83-.067 4.56.244.729.625 1.924 1.273 2.796.576.984 1.34 1.667 1.659 1.899.319.232 1.219.386 1.843.067.502-.308 1.408-.485 1.766-.472.357.013 1.061.154 1.782.539.571.197 1.111.115 1.652-.105.541-.221 1.324-1.059 2.238-2.758.347-.79.505-1.217.473-1.282z"/></svg>
<svg class="svc" style="left:666.2px;top:273px" width="40" height="40" viewBox="0 0 40 40"><rect x="1" y="1" width="38" height="38" rx="5.500" fill="#fff" stroke="#3b3b3b" stroke-width="2"/><path d="M7.200 14L8.200 13L9.200 13.500L10.100 9.800L11.300 12L12.600 8.200L14.200 11.500L16 9.900L17 15.500L17.800 16.200L19.300 13L20.800 16.200L21.600 15.500L23 9.800L24.600 12L26.300 8.200L27.800 10.500L29 10L29.800 14L29.800 18L29 21.700L27.600 21L26.300 25.800L24.800 23.500L23 28.700L21.300 27.500L19.300 32.200L17.600 26.900L16 28.700L14.300 24L12.600 25.800L11.300 21L10.100 21.700L9 18L8.200 17.600L7.200 16.500Z" fill="#3b3b3b" stroke="#3b3b3b" stroke-width=".7" stroke-linejoin="round"/><path d="M31.300 13.500V17.300" stroke="#3b3b3b" stroke-width="1.300" stroke-linecap="round"/></svg>
<svg class="svc" style="left:714.2px;top:273px" width="38.800" height="40" viewBox="0 0 38.800 40"><rect x="1" y="1" width="36.800" height="38" rx="5.500" fill="#fff" stroke="#cbcbcb" stroke-width="2"/><g transform="translate(-.6 0)"><path d="M10.700 14.700C8.500 15.500 7.800 17 7.800 18.500C7.800 20 8.500 21.500 10.700 22.300ZM29.100 14.700C31.300 15.500 32 17 32 18.500C32 20 31.300 21.500 29.100 22.300Z" fill="#cbcbcb"/><path d="M13.200 12.600C16.500 7.700 23.300 7.700 26.600 12.600L24.200 14.400C21.900 11.900 17.900 11.900 15.600 14.400Z" fill="#fff" stroke="#cbcbcb" stroke-width="1.700" stroke-linejoin="round"/><path d="M11.600 11.800V21C11.600 27 15 30.200 19.900 30.200C24.800 30.200 28.200 27 28.200 21V11.800L24.400 15C21.500 13.700 18.300 13.700 15.400 15Z" fill="#fff" stroke="#cbcbcb" stroke-width="2.100" stroke-linejoin="round"/><path d="M14.100 21.300C15.800 21 17.600 21.900 18.700 23.600C16.800 24 15 23.200 14.100 21.300ZM25.700 21.300C24 21 22.200 21.900 21.100 23.600C23 24 24.800 23.200 25.700 21.300Z" fill="#cbcbcb"/><path d="M18.200 25.400H21.600M18.200 27.400H21.600" stroke="#cbcbcb" stroke-width="1.100" fill="none"/></g></svg>
<svg class="svc" style="left:761px;top:273px" width="40" height="40" viewBox="0 0 40 40"><rect x="1" y="1" width="38" height="38" rx="5.500" fill="#fff" stroke="#3b3b3b" stroke-width="2"/><path fill-rule="evenodd" fill="#3b3b3b" d="M13.200 12.300C14 9 16.600 7.200 20.200 7.200C24.400 7.200 26.500 9.400 26.500 13V20.300C26.500 21.600 27.200 22.500 28 23.400L25.300 25.900C24.200 25.100 23.400 24.200 22.800 23.100C21.400 25 19.600 26.100 17.200 26.100C14.200 26.100 12.100 24.200 12.100 21.100C12.100 17 15.800 15.300 22 15.200V13.600C22 11.700 21.200 10.600 19.600 10.600C18.100 10.600 17.100 11.500 16.700 13ZM22 17.900C18.900 17.900 16.800 18.600 16.800 20.800C16.800 22.300 17.600 23.200 18.900 23.200C20.800 23.200 22 21.500 22 19.200Z"/><path d="M8.200 26.800C12 30 15.800 31.600 19.600 31.600C23.300 31.600 26.800 30.300 29.600 28.200" fill="none" stroke="#3b3b3b" stroke-width="1.500" stroke-linecap="round"/><path d="M27.800 26.600C29.300 26.100 30.800 26.100 31.800 26.500C32 27.800 31.400 29.300 30.400 30.400" fill="none" stroke="#3b3b3b" stroke-width="1.200" stroke-linecap="round" stroke-linejoin="round"/></svg>
<svg class="svc" style="left:809px;top:273px" width="40" height="40" viewBox="0 0 40 40"><rect x="1" y="1" width="38" height="38" rx="5.500" fill="#fff" stroke="#3b3b3b" stroke-width="2"/><path d="M12 21.700A8 8 0 1 1 16.800 27.200" fill="none" stroke="#3b3b3b" stroke-width="2.900"/><path d="M26.500 7.500L24.100 12.300" stroke="#3b3b3b" stroke-width="3.200" stroke-linecap="round"/><path d="M19.800 19.800L13.100 31.500" stroke="#3b3b3b" stroke-width="3.100" stroke-linecap="round"/><circle cx="19.900" cy="19.700" r="2" fill="#3b3b3b"/></svg>
<svg class="svc" style="left:857px;top:273px" width="40" height="40" viewBox="0 0 40 40"><rect x="1" y="1" width="38" height="38" rx="5.500" fill="#fff" stroke="#3b3b3b" stroke-width="2"/><path d="M9.600 7.300h11.200a9.300 9.300 0 0 1 0 18.600h-3.800v6.200H9.600z" fill="#3b3b3b"/></svg>
<svg class="svc" style="left:905px;top:273px" width="40" height="40" viewBox="0 0 40 40"><rect x="1" y="1" width="38" height="38" rx="5.500" fill="#fff" stroke="#3b3b3b" stroke-width="2"/><path d="M19.600 26.200V14.100c1.400-.8 2.900-1.200 4.400-1.200 3.300 0 5.800 2.400 6.200 5.500.4-.1.800-.2 1.200-.2 2 0 3.200 1.900 3.200 4 0 2.200-1.700 4-3.900 4z" fill="#3b3b3b"/><path d="M5.100 21.200v3.600M6.900 19.800v5.900M8.700 18.800v7.200M10.500 18.200v8M12.300 16.600v9.600M14.100 15.800v10.400M15.900 15.300v10.900M17.700 14.700v11.500" stroke="#3b3b3b" stroke-width="1.150" fill="none"/></svg>
<svg class="svc" style="left:953px;top:273px" width="40" height="40" viewBox="0 0 40 40"><rect x="1" y="1" width="38" height="38" rx="5.500" fill="#fff" stroke="#3b3b3b" stroke-width="2"/><path fill-rule="evenodd" fill="#3b3b3b" d="M14.900 7.300H23C27 7.300 29.300 9.800 29 13.200C28.800 15.600 27.600 17.400 25.600 18.400C28.600 19.400 30.500 22 30.200 25.600C29.800 29.800 26.800 32.300 22.600 32.300H12.400C10.600 32.300 9.600 31.200 9.900 29.600ZM21.400 11.300a2.700 2.700 0 1 0 .010 0ZM20.600 22.400a3.100 3.100 0 1 0 .010 0Z"/><path d="M12 11.100L20.500 12.700M10 21.200L19.300 22.900" stroke="#fff" stroke-width="1.400"/></svg>
<div class="hl" style="left:560px;top:319px;width:433px;height:2px;background:#bcbcbc"></div>
</section>
<section>
<span style="position:absolute;left:1085.1px;transform-origin:left center;top:200.9px;font-size:36px;line-height:36px;color:#000;white-space:nowrap;transform:scaleX(0.9891);-webkit-text-stroke:0.55px #fff;">Age/Gender</span>
<div class="hl" style="left:1053px;top:263px;width:432px;height:2px;background:#bcbcbc"></div>
<svg class="svc" style="left:1205px;top:273px" width="40" height="40" viewBox="0 0 40 40"><rect x="1" y="1" width="38" height="38" rx="5.500" fill="#fff" stroke="#3b3b3b" stroke-width="2"/><path transform="translate(7.2 7.2) scale(1.6)" fill="#3b3b3b" d="M8 0a8 8 0 1 0 0 16A8 8 0 0 0 8 0zm3.669 11.538a.498.498 0 0 1-.686.165c-1.879-1.147-4.243-1.407-7.028-.77a.499.499 0 0 1-.222-.973c3.048-.696 5.662-.397 7.77.892a.5.5 0 0 1 .166.686zm.979-2.178a.624.624 0 0 1-.858.205c-2.15-1.321-5.428-1.704-7.972-.932a.625.625 0 0 1-.362-1.194c2.905-.881 6.517-.454 8.986 1.063a.624.624 0 0 1 .206.858zm.084-2.268C10.154 5.56 5.9 5.419 3.438 6.166a.748.748 0 1 1-.434-1.432c2.825-.857 7.523-.692 10.492 1.07a.747.747 0 1 1-.764 1.288z"/></svg>
<svg class="svc" style="left:1253px;top:273px" width="40" height="40" viewBox="0 0 40 40"><rect x="1" y="1" width="38" height="38" rx="5.500" fill="#fff" stroke="#3b3b3b" stroke-width="2"/><path transform="translate(7.2 7.2) scale(1.6)" fill="#3b3b3b" d="M11.182.008C11.148-.03 9.923.023 8.857 1.18c-1.066 1.156-.902 2.482-.878 2.516.024.034 1.52.087 2.475-1.258.955-1.345.762-2.391.728-2.43zm3.314 11.733c-.048-.096-2.325-1.234-2.113-3.422.212-2.189 1.675-2.789 1.698-2.854.023-.065-.597-.79-1.254-1.157a3.692 3.692 0 0 0-1.563-.434c-.108-.003-.483-.095-1.254.116-.508.139-1.653.589-1.968.607-.316.018-1.256-.522-2.267-.665-.647-.125-1.333.131-1.824.328-.49.196-1.422.754-2.074 2.237-.652 1.482-.311 3.83-.067 4.56.244.729.625 1.924 1.273 2.796.576.984 1.34 1.667 1.659 1.899.319.232 1.219.386 1.843.067.502-.308 1.408-.485 1.766-.472.357.013 1.061.154 1.782.539.571.197 1.111.115 1.652-.105.541-.221 1.324-1.059 2.238-2.758.347-.79.505-1.217.473-1.282z"/></svg>
<svg class="svc" style="left:1301px;top:273px" width="40" height="40" viewBox="0 0 40 40"><rect x="1" y="1" width="38" height="38" rx="5.500" fill="#fff" stroke="#3b3b3b" stroke-width="2"/><path d="M7.200 14L8.200 13L9.200 13.500L10.100 9.800L11.300 12L12.600 8.200L14.200 11.500L16 9.900L17 15.500L17.800 16.200L19.300 13L20.800 16.200L21.600 15.500L23 9.800L24.600 12L26.300 8.200L27.800 10.500L29 10L29.800 14L29.800 18L29 21.700L27.600 21L26.300 25.800L24.800 23.500L23 28.700L21.300 27.500L19.300 32.200L17.600 26.900L16 28.700L14.300 24L12.600 25.800L11.300 21L10.100 21.700L9 18L8.200 17.600L7.200 16.500Z" fill="#3b3b3b" stroke="#3b3b3b" stroke-width=".7" stroke-linejoin="round"/><path d="M31.300 13.500V17.300" stroke="#3b3b3b" stroke-width="1.300" stroke-linecap="round"/></svg>
<svg class="svc" style="left:1349px;top:273px" width="40" height="40" viewBox="0 0 40 40"><rect x="1" y="1" width="38" height="38" rx="5.500" fill="#fff" stroke="#3b3b3b" stroke-width="2"/><path d="M9.600 7.300h11.200a9.300 9.300 0 0 1 0 18.600h-3.800v6.200H9.600z" fill="#3b3b3b"/></svg>
<svg class="svc" style="left:1397px;top:273px" width="40" height="40" viewBox="0 0 40 40"><rect x="1" y="1" width="38" height="38" rx="5.500" fill="#fff" stroke="#3b3b3b" stroke-width="2"/><path d="M19.600 26.200V14.100c1.400-.8 2.900-1.200 4.400-1.200 3.300 0 5.800 2.400 6.200 5.500.4-.1.800-.2 1.200-.2 2 0 3.200 1.900 3.200 4 0 2.200-1.700 4-3.900 4z" fill="#3b3b3b"/><path d="M5.100 21.200v3.600M6.900 19.800v5.900M8.700 18.800v7.200M10.500 18.200v8M12.300 16.600v9.600M14.100 15.800v10.400M15.900 15.300v10.900M17.700 14.700v11.500" stroke="#3b3b3b" stroke-width="1.150" fill="none"/></svg>
<svg class="svc" style="left:1445px;top:273px" width="40" height="40" viewBox="0 0 40 40"><rect x="1" y="1" width="38" height="38" rx="5.500" fill="#fff" stroke="#3b3b3b" stroke-width="2"/><path fill-rule="evenodd" fill="#3b3b3b" d="M14.900 7.300H23C27 7.300 29.300 9.800 29 13.200C28.800 15.600 27.600 17.400 25.600 18.400C28.600 19.400 30.500 22 30.200 25.600C29.800 29.800 26.800 32.300 22.600 32.300H12.400C10.600 32.300 9.600 31.200 9.900 29.600ZM21.400 11.300a2.700 2.700 0 1 0 .010 0ZM20.600 22.400a3.100 3.100 0 1 0 .010 0Z"/><path d="M12 11.100L20.500 12.700M10 21.200L19.300 22.900" stroke="#fff" stroke-width="1.400"/></svg>
<div class="hl" style="left:1053px;top:319px;width:432px;height:2px;background:#bcbcbc"></div>
</section>
<section>
<span style="position:absolute;left:1576.4px;transform-origin:left center;top:200.9px;font-size:36px;line-height:36px;color:#000;white-space:nowrap;transform:scaleX(0.9705);-webkit-text-stroke:0.55px #fff;">Top Genres</span>
<div class="hl" style="left:1545px;top:263px;width:433px;height:2px;background:#bcbcbc"></div>
<svg class="svc" style="left:1555.2px;top:273px" width="40" height="40" viewBox="0 0 40 40"><rect x="1" y="1" width="38" height="38" rx="5.500" fill="#fff" stroke="#3b3b3b" stroke-width="2"/><path transform="translate(7.2 7.2) scale(1.6)" fill="#3b3b3b" d="M8 0a8 8 0 1 0 0 16A8 8 0 0 0 8 0zm3.669 11.538a.498.498 0 0 1-.686.165c-1.879-1.147-4.243-1.407-7.028-.77a.499.499 0 0 1-.222-.973c3.048-.696 5.662-.397 7.77.892a.5.5 0 0 1 .166.686zm.979-2.178a.624.624 0 0 1-.858.205c-2.15-1.321-5.428-1.704-7.972-.932a.625.625 0 0 1-.362-1.194c2.905-.881 6.517-.454 8.986 1.063a.624.624 0 0 1 .206.858zm.084-2.268C10.154 5.56 5.9 5.419 3.438 6.166a.748.748 0 1 1-.434-1.432c2.825-.857 7.523-.692 10.492 1.07a.747.747 0 1 1-.764 1.288z"/></svg>
<svg class="svc" style="left:1603.2px;top:273px" width="40" height="40" viewBox="0 0 40 40"><rect x="1" y="1" width="38" height="38" rx="5.500" fill="#fff" stroke="#3b3b3b" stroke-width="2"/><path transform="translate(7.2 7.2) scale(1.6)" fill="#3b3b3b" d="M11.182.008C11.148-.03 9.923.023 8.857 1.18c-1.066 1.156-.902 2.482-.878 2.516.024.034 1.52.087 2.475-1.258.955-1.345.762-2.391.728-2.43zm3.314 11.733c-.048-.096-2.325-1.234-2.113-3.422.212-2.189 1.675-2.789 1.698-2.854.023-.065-.597-.79-1.254-1.157a3.692 3.692 0 0 0-1.563-.434c-.108-.003-.483-.095-1.254.116-.508.139-1.653.589-1.968.607-.316.018-1.256-.522-2.267-.665-.647-.125-1.333.131-1.824.328-.49.196-1.422.754-2.074 2.237-.652 1.482-.311 3.83-.067 4.56.244.729.625 1.924 1.273 2.796.576.984 1.34 1.667 1.659 1.899.319.232 1.219.386 1.843.067.502-.308 1.408-.485 1.766-.472.357.013 1.061.154 1.782.539.571.197 1.111.115 1.652-.105.541-.221 1.324-1.059 2.238-2.758.347-.79.505-1.217.473-1.282z"/></svg>
<svg class="svc" style="left:1651.2px;top:273px" width="40" height="40" viewBox="0 0 40 40"><rect x="1" y="1" width="38" height="38" rx="5.500" fill="#fff" stroke="#3b3b3b" stroke-width="2"/><path d="M7.200 14L8.200 13L9.200 13.500L10.100 9.800L11.300 12L12.600 8.200L14.200 11.500L16 9.900L17 15.500L17.800 16.200L19.300 13L20.800 16.200L21.600 15.500L23 9.800L24.600 12L26.300 8.200L27.800 10.500L29 10L29.800 14L29.800 18L29 21.700L27.600 21L26.300 25.800L24.800 23.500L23 28.700L21.300 27.500L19.300 32.200L17.600 26.900L16 28.700L14.300 24L12.600 25.800L11.300 21L10.100 21.700L9 18L8.200 17.600L7.200 16.500Z" fill="#3b3b3b" stroke="#3b3b3b" stroke-width=".7" stroke-linejoin="round"/><path d="M31.300 13.500V17.300" stroke="#3b3b3b" stroke-width="1.300" stroke-linecap="round"/></svg>
<svg class="svc" style="left:1699.2px;top:273px" width="38.800" height="40" viewBox="0 0 38.800 40"><rect x="1" y="1" width="36.800" height="38" rx="5.500" fill="#fff" stroke="#cbcbcb" stroke-width="2"/><g transform="translate(-.6 0)"><path d="M10.700 14.700C8.500 15.500 7.800 17 7.800 18.500C7.800 20 8.500 21.500 10.700 22.300ZM29.100 14.700C31.300 15.500 32 17 32 18.500C32 20 31.300 21.500 29.100 22.300Z" fill="#cbcbcb"/><path d="M13.200 12.600C16.500 7.700 23.300 7.700 26.600 12.600L24.200 14.400C21.900 11.900 17.900 11.900 15.600 14.400Z" fill="#fff" stroke="#cbcbcb" stroke-width="1.700" stroke-linejoin="round"/><path d="M11.600 11.800V21C11.600 27 15 30.200 19.900 30.200C24.800 30.200 28.200 27 28.200 21V11.800L24.400 15C21.500 13.700 18.300 13.700 15.400 15Z" fill="#fff" stroke="#cbcbcb" stroke-width="2.100" stroke-linejoin="round"/><path d="M14.100 21.300C15.800 21 17.600 21.900 18.700 23.600C16.800 24 15 23.200 14.100 21.300ZM25.700 21.300C24 21 22.200 21.900 21.100 23.600C23 24 24.800 23.200 25.700 21.300Z" fill="#cbcbcb"/><path d="M18.200 25.400H21.600M18.200 27.400H21.600" stroke="#cbcbcb" stroke-width="1.100" fill="none"/></g></svg>
<svg class="svc" style="left:1746px;top:273px" width="40" height="40" viewBox="0 0 40 40"><rect x="1" y="1" width="38" height="38" rx="5.500" fill="#fff" stroke="#3b3b3b" stroke-width="2"/><path fill-rule="evenodd" fill="#3b3b3b" d="M13.200 12.300C14 9 16.600 7.200 20.200 7.200C24.400 7.200 26.500 9.400 26.500 13V20.300C26.500 21.600 27.200 22.500 28 23.400L25.300 25.900C24.200 25.100 23.400 24.200 22.800 23.100C21.400 25 19.600 26.100 17.200 26.100C14.200 26.100 12.100 24.200 12.100 21.100C12.100 17 15.800 15.300 22 15.200V13.600C22 11.700 21.200 10.600 19.600 10.600C18.100 10.600 17.100 11.500 16.700 13ZM22 17.900C18.900 17.900 16.800 18.600 16.800 20.800C16.800 22.300 17.600 23.200 18.900 23.200C20.800 23.200 22 21.500 22 19.200Z"/><path d="M8.200 26.800C12 30 15.800 31.600 19.600 31.600C23.300 31.600 26.800 30.300 29.600 28.200" fill="none" stroke="#3b3b3b" stroke-width="1.500" stroke-linecap="round"/><path d="M27.800 26.600C29.300 26.100 30.800 26.100 31.800 26.500C32 27.800 31.400 29.300 30.400 30.400" fill="none" stroke="#3b3b3b" stroke-width="1.200" stroke-linecap="round" stroke-linejoin="round"/></svg>
<svg class="svc" style="left:1794px;top:273px" width="40" height="40" viewBox="0 0 40 40"><rect x="1" y="1" width="38" height="38" rx="5.500" fill="#fff" stroke="#3b3b3b" stroke-width="2"/><path d="M12 21.700A8 8 0 1 1 16.800 27.200" fill="none" stroke="#3b3b3b" stroke-width="2.900"/><path d="M26.500 7.500L24.100 12.300" stroke="#3b3b3b" stroke-width="3.200" stroke-linecap="round"/><path d="M19.800 19.800L13.100 31.500" stroke="#3b3b3b" stroke-width="3.100" stroke-linecap="round"/><circle cx="19.900" cy="19.700" r="2" fill="#3b3b3b"/></svg>
<svg class="svc" style="left:1842px;top:273px" width="40" height="40" viewBox="0 0 40 40"><rect x="1" y="1" width="38" height="38" rx="5.500" fill="#fff" stroke="#3b3b3b" stroke-width="2"/><path d="M9.600 7.300h11.200a9.300 9.300 0 0 1 0 18.600h-3.800v6.200H9.600z" fill="#3b3b3b"/></svg>
<svg class="svc" style="left:1890px;top:273px" width="40" height="40" viewBox="0 0 40 40"><rect x="1" y="1" width="38" height="38" rx="5.500" fill="#fff" stroke="#3b3b3b" stroke-width="2"/><path d="M19.600 26.200V14.100c1.400-.8 2.900-1.200 4.400-1.200 3.300 0 5.800 2.400 6.200 5.500.4-.1.800-.2 1.200-.2 2 0 3.200 1.900 3.200 4 0 2.200-1.700 4-3.900 4z" fill="#3b3b3b"/><path d="M5.100 21.200v3.600M6.900 19.800v5.900M8.700 18.800v7.200M10.500 18.200v8M12.300 16.600v9.600M14.100 15.800v10.400M15.900 15.300v10.900M17.700 14.700v11.500" stroke="#3b3b3b" stroke-width="1.150" fill="none"/></svg>
<svg class="svc" style="left:1938px;top:273px" width="40" height="40" viewBox="0 0 40 40"><rect x="1" y="1" width="38" height="38" rx="5.500" fill="#fff" stroke="#3b3b3b" stroke-width="2"/><path fill-rule="evenodd" fill="#3b3b3b" d="M14.900 7.300H23C27 7.300 29.300 9.800 29 13.200C28.800 15.600 27.600 17.400 25.600 18.400C28.600 19.400 30.500 22 30.200 25.600C29.800 29.800 26.800 32.300 22.600 32.300H12.400C10.600 32.300 9.600 31.200 9.900 29.600ZM21.400 11.300a2.700 2.700 0 1 0 .010 0ZM20.600 22.400a3.100 3.100 0 1 0 .010 0Z"/><path d="M12 11.100L20.500 12.700M10 21.200L19.300 22.900" stroke="#fff" stroke-width="1.400"/></svg>
<div class="hl" style="left:1545px;top:319px;width:433px;height:2px;background:#bcbcbc"></div>
</section>
<section>
<span style="position:absolute;left:2068.8px;transform-origin:left center;top:200.9px;font-size:36px;line-height:36px;color:#000;white-space:nowrap;transform:scaleX(0.9670);-webkit-text-stroke:0.55px #fff;">Top Territories</span>
<div class="hl" style="left:2038px;top:263px;width:432px;height:2px;background:#bcbcbc"></div>
<svg class="svc" style="left:2047.2px;top:273px" width="40" height="40" viewBox="0 0 40 40"><rect x="1" y="1" width="38" height="38" rx="5.500" fill="#fff" stroke="#3b3b3b" stroke-width="2"/><path transform="translate(7.2 7.2) scale(1.6)" fill="#3b3b3b" d="M8 0a8 8 0 1 0 0 16A8 8 0 0 0 8 0zm3.669 11.538a.498.498 0 0 1-.686.165c-1.879-1.147-4.243-1.407-7.028-.77a.499.499 0 0 1-.222-.973c3.048-.696 5.662-.397 7.77.892a.5.5 0 0 1 .166.686zm.979-2.178a.624.624 0 0 1-.858.205c-2.15-1.321-5.428-1.704-7.972-.932a.625.625 0 0 1-.362-1.194c2.905-.881 6.517-.454 8.986 1.063a.624.624 0 0 1 .206.858zm.084-2.268C10.154 5.56 5.9 5.419 3.438 6.166a.748.748 0 1 1-.434-1.432c2.825-.857 7.523-.692 10.492 1.07a.747.747 0 1 1-.764 1.288z"/></svg>
<svg class="svc" style="left:2095.2px;top:273px" width="40" height="40" viewBox="0 0 40 40"><rect x="1" y="1" width="38" height="38" rx="5.500" fill="#fff" stroke="#3b3b3b" stroke-width="2"/><path transform="translate(7.2 7.2) scale(1.6)" fill="#3b3b3b" d="M11.182.008C11.148-.03 9.923.023 8.857 1.18c-1.066 1.156-.902 2.482-.878 2.516.024.034 1.52.087 2.475-1.258.955-1.345.762-2.391.728-2.43zm3.314 11.733c-.048-.096-2.325-1.234-2.113-3.422.212-2.189 1.675-2.789 1.698-2.854.023-.065-.597-.79-1.254-1.157a3.692 3.692 0 0 0-1.563-.434c-.108-.003-.483-.095-1.254.116-.508.139-1.653.589-1.968.607-.316.018-1.256-.522-2.267-.665-.647-.125-1.333.131-1.824.328-.49.196-1.422.754-2.074 2.237-.652 1.482-.311 3.83-.067 4.56.244.729.625 1.924 1.273 2.796.576.984 1.34 1.667 1.659 1.899.319.232 1.219.386 1.843.067.502-.308 1.408-.485 1.766-.472.357.013 1.061.154 1.782.539.571.197 1.111.115 1.652-.105.541-.221 1.324-1.059 2.238-2.758.347-.79.505-1.217.473-1.282z"/></svg>
<svg class="svc" style="left:2143.2px;top:273px" width="40" height="40" viewBox="0 0 40 40"><rect x="1" y="1" width="38" height="38" rx="5.500" fill="#fff" stroke="#3b3b3b" stroke-width="2"/><path d="M7.200 14L8.200 13L9.200 13.500L10.100 9.800L11.300 12L12.600 8.200L14.200 11.500L16 9.900L17 15.500L17.800 16.200L19.300 13L20.800 16.200L21.600 15.500L23 9.800L24.600 12L26.300 8.200L27.800 10.500L29 10L29.800 14L29.800 18L29 21.700L27.600 21L26.300 25.800L24.800 23.500L23 28.700L21.300 27.500L19.300 32.200L17.600 26.900L16 28.700L14.300 24L12.600 25.800L11.300 21L10.100 21.700L9 18L8.200 17.600L7.200 16.500Z" fill="#3b3b3b" stroke="#3b3b3b" stroke-width=".7" stroke-linejoin="round"/><path d="M31.300 13.500V17.300" stroke="#3b3b3b" stroke-width="1.300" stroke-linecap="round"/></svg>
<svg class="svc" style="left:2191.2px;top:273px" width="38.800" height="40" viewBox="0 0 38.800 40"><rect x="1" y="1" width="36.800" height="38" rx="5.500" fill="#fff" stroke="#cbcbcb" stroke-width="2"/><g transform="translate(-.6 0)"><path d="M10.700 14.700C8.500 15.500 7.800 17 7.800 18.500C7.800 20 8.500 21.500 10.700 22.300ZM29.100 14.700C31.300 15.500 32 17 32 18.500C32 20 31.300 21.500 29.100 22.300Z" fill="#cbcbcb"/><path d="M13.200 12.600C16.500 7.700 23.300 7.700 26.600 12.600L24.200 14.400C21.900 11.900 17.900 11.900 15.600 14.400Z" fill="#fff" stroke="#cbcbcb" stroke-width="1.700" stroke-linejoin="round"/><path d="M11.600 11.800V21C11.600 27 15 30.200 19.900 30.200C24.800 30.200 28.200 27 28.200 21V11.800L24.400 15C21.500 13.700 18.300 13.700 15.400 15Z" fill="#fff" stroke="#cbcbcb" stroke-width="2.100" stroke-linejoin="round"/><path d="M14.100 21.300C15.800 21 17.600 21.900 18.700 23.600C16.800 24 15 23.200 14.100 21.300ZM25.700 21.300C24 21 22.200 21.900 21.100 23.600C23 24 24.800 23.200 25.700 21.300Z" fill="#cbcbcb"/><path d="M18.200 25.400H21.600M18.200 27.400H21.600" stroke="#cbcbcb" stroke-width="1.100" fill="none"/></g></svg>
<svg class="svc" style="left:2238px;top:273px" width="40" height="40" viewBox="0 0 40 40"><rect x="1" y="1" width="38" height="38" rx="5.500" fill="#fff" stroke="#3b3b3b" stroke-width="2"/><path fill-rule="evenodd" fill="#3b3b3b" d="M13.200 12.300C14 9 16.600 7.200 20.200 7.200C24.400 7.200 26.500 9.400 26.500 13V20.300C26.500 21.600 27.200 22.500 28 23.400L25.300 25.900C24.200 25.100 23.400 24.200 22.800 23.100C21.400 25 19.600 26.100 17.200 26.100C14.200 26.100 12.100 24.200 12.100 21.100C12.100 17 15.800 15.300 22 15.200V13.600C22 11.700 21.200 10.600 19.600 10.600C18.100 10.600 17.100 11.500 16.700 13ZM22 17.900C18.900 17.900 16.800 18.600 16.800 20.800C16.800 22.300 17.600 23.200 18.900 23.200C20.800 23.200 22 21.500 22 19.200Z"/><path d="M8.200 26.800C12 30 15.800 31.600 19.600 31.600C23.300 31.600 26.800 30.300 29.600 28.200" fill="none" stroke="#3b3b3b" stroke-width="1.500" stroke-linecap="round"/><path d="M27.800 26.600C29.300 26.100 30.800 26.100 31.800 26.500C32 27.800 31.400 29.300 30.400 30.400" fill="none" stroke="#3b3b3b" stroke-width="1.200" stroke-linecap="round" stroke-linejoin="round"/></svg>
<svg class="svc" style="left:2286px;top:273px" width="40" height="40" viewBox="0 0 40 40"><rect x="1" y="1" width="38" height="38" rx="5.500" fill="#fff" stroke="#3b3b3b" stroke-width="2"/><path d="M12 21.700A8 8 0 1 1 16.800 27.200" fill="none" stroke="#3b3b3b" stroke-width="2.900"/><path d="M26.500 7.500L24.100 12.300" stroke="#3b3b3b" stroke-width="3.200" stroke-linecap="round"/><path d="M19.800 19.800L13.100 31.500" stroke="#3b3b3b" stroke-width="3.100" stroke-linecap="round"/><circle cx="19.900" cy="19.700" r="2" fill="#3b3b3b"/></svg>
<svg class="svc" style="left:2334px;top:273px" width="40" height="40" viewBox="0 0 40 40"><rect x="1" y="1" width="38" height="38" rx="5.500" fill="#fff" stroke="#3b3b3b" stroke-width="2"/><path d="M9.600 7.300h11.200a9.300 9.300 0 0 1 0 18.600h-3.800v6.200H9.600z" fill="#3b3b3b"/></svg>
<svg class="svc" style="left:2382px;top:273px" width="40" height="40" viewBox="0 0 40 40"><rect x="1" y="1" width="38" height="38" rx="5.500" fill="#fff" stroke="#3b3b3b" stroke-width="2"/><path d="M19.600 26.200V14.100c1.400-.8 2.900-1.200 4.400-1.200 3.300 0 5.800 2.400 6.200 5.500.4-.1.800-.2 1.200-.2 2 0 3.200 1.900 3.200 4 0 2.200-1.700 4-3.900 4z" fill="#3b3b3b"/><path d="M5.100 21.200v3.600M6.900 19.800v5.900M8.700 18.800v7.200M10.500 18.200v8M12.300 16.600v9.600M14.100 15.800v10.400M15.900 15.300v10.900M17.700 14.700v11.500" stroke="#3b3b3b" stroke-width="1.150" fill="none"/></svg>
<svg class="svc" style="left:2430px;top:273px" width="40" height="40" viewBox="0 0 40 40"><rect x="1" y="1" width="38" height="38" rx="5.500" fill="#fff" stroke="#3b3b3b" stroke-width="2"/><path fill-rule="evenodd" fill="#3b3b3b" d="M14.900 7.300H23C27 7.300 29.300 9.800 29 13.200C28.800 15.600 27.600 17.400 25.600 18.400C28.600 19.400 30.500 22 30.200 25.600C29.800 29.800 26.800 32.300 22.600 32.300H12.400C10.600 32.300 9.600 31.200 9.900 29.600ZM21.400 11.300a2.700 2.700 0 1 0 .010 0ZM20.600 22.400a3.100 3.100 0 1 0 .010 0Z"/><path d="M12 11.100L20.500 12.700M10 21.200L19.300 22.900" stroke="#fff" stroke-width="1.400"/></svg>
<div class="hl" style="left:2038px;top:319px;width:432px;height:2px;background:#bcbcbc"></div>
</section>
<span style="position:absolute;left:854.4px;transform-origin:right center;top:198.3px;font-size:34.5px;line-height:34.5px;color:#000;white-space:nowrap;transform:scaleX(1.0180);-webkit-text-stroke:0.55px #fff;">22M -5%</span>
<span style="position:absolute;left:559.0px;transform-origin:left center;top:325.8px;font-size:28px;line-height:28px;color:#9a9a9a;white-space:nowrap;transform:scaleX(0.9955);-webkit-text-stroke:0.15px #fff;">Streams</span>
<span style="position:absolute;left:926.1px;transform-origin:right center;top:325.8px;font-size:28px;line-height:28px;color:#9a9a9a;white-space:nowrap;transform:scaleX(0.9937);-webkit-text-stroke:0.15px #fff;">795K</span>
<span style="position:absolute;left:1051.7px;transform-origin:left center;top:325.8px;font-size:28px;line-height:28px;color:#9a9a9a;white-space:nowrap;transform:scaleX(0.9906);-webkit-text-stroke:0.15px #fff;">Streams</span>
<span style="position:absolute;left:1400.5px;transform-origin:right center;top:325.8px;font-size:28px;line-height:28px;color:#9a9a9a;white-space:nowrap;transform:scaleX(1.0581);-webkit-text-stroke:0.15px #fff;">n=18M</span>
<section>
<div class="hl" style="left:560px;top:1194px;width:433px;height:2px;background:#bcbcbc"></div>
<span style="position:absolute;left:591.4px;transform-origin:left center;top:1223.1px;font-size:36px;line-height:36px;color:#000;white-space:nowrap;transform:scaleX(0.9868);-webkit-text-stroke:0.55px #fff;">Top Artists</span>
<div class="hl" style="left:560px;top:1287px;width:433px;height:2px;background:#bcbcbc"></div>
<svg class="svc" style="left:570.2px;top:1295px" width="40" height="40" viewBox="0 0 40 40"><rect x="1" y="1" width="38" height="38" rx="5.500" fill="#fff" stroke="#3b3b3b" stroke-width="2"/><path transform="translate(7.2 7.2) scale(1.6)" fill="#3b3b3b" d="M8 0a8 8 0 1 0 0 16A8 8 0 0 0 8 0zm3.669 11.538a.498.498 0 0 1-.686.165c-1.879-1.147-4.243-1.407-7.028-.77a.499.499 0 0 1-.222-.973c3.048-.696 5.662-.397 7.77.892a.5.5 0 0 1 .166.686zm.979-2.178a.624.624 0 0 1-.858.205c-2.15-1.321-5.428-1.704-7.972-.932a.625.625 0 0 1-.362-1.194c2.905-.881 6.517-.454 8.986 1.063a.624.624 0 0 1 .206.858zm.084-2.268C10.154 5.56 5.9 5.419 3.438 6.166a.748.748 0 1 1-.434-1.432c2.825-.857 7.523-.692 10.492 1.07a.747.747 0 1 1-.764 1.288z"/></svg>
<svg class="svc" style="left:618.2px;top:1295px" width="40" height="40" viewBox="0 0 40 40"><rect x="1" y="1" width="38" height="38" rx="5.500" fill="#fff" stroke="#3b3b3b" stroke-width="2"/><path transform="translate(7.2 7.2) scale(1.6)" fill="#3b3b3b" d="M11.182.008C11.148-.03 9.923.023 8.857 1.18c-1.066 1.156-.902 2.482-.878 2.516.024.034 1.52.087 2.475-1.258.955-1.345.762-2.391.728-2.43zm3.314 11.733c-.048-.096-2.325-1.234-2.113-3.422.212-2.189 1.675-2.789 1.698-2.854.023-.065-.597-.79-1.254-1.157a3.692 3.692 0 0 0-1.563-.434c-.108-.003-.483-.095-1.254.116-.508.139-1.653.589-1.968.607-.316.018-1.256-.522-2.267-.665-.647-.125-1.333.131-1.824.328-.49.196-1.422.754-2.074 2.237-.652 1.482-.311 3.83-.067 4.56.244.729.625 1.924 1.273 2.796.576.984 1.34 1.667 1.659 1.899.319.232 1.219.386 1.843.067.502-.308 1.408-.485 1.766-.472.357.013 1.061.154 1.782.539.571.197 1.111.115 1.652-.105.541-.221 1.324-1.059 2.238-2.758.347-.79.505-1.217.473-1.282z"/></svg>
<svg class="svc" style="left:666.2px;top:1295px" width="40" height="40" viewBox="0 0 40 40"><rect x="1" y="1" width="38" height="38" rx="5.500" fill="#fff" stroke="#3b3b3b" stroke-width="2"/><path d="M7.200 14L8.200 13L9.200 13.500L10.100 9.800L11.300 12L12.600 8.200L14.200 11.500L16 9.900L17 15.500L17.800 16.200L19.300 13L20.800 16.200L21.600 15.500L23 9.800L24.600 12L26.300 8.200L27.800 10.500L29 10L29.800 14L29.800 18L29 21.700L27.600 21L26.300 25.800L24.800 23.500L23 28.700L21.300 27.500L19.300 32.200L17.600 26.900L16 28.700L14.300 24L12.600 25.800L11.300 21L10.100 21.700L9 18L8.200 17.600L7.200 16.500Z" fill="#3b3b3b" stroke="#3b3b3b" stroke-width=".7" stroke-linejoin="round"/><path d="M31.300 13.500V17.300" stroke="#3b3b3b" stroke-width="1.300" stroke-linecap="round"/></svg>
<svg class="svc" style="left:714.2px;top:1295px" width="38.800" height="40" viewBox="0 0 38.800 40"><rect x="1" y="1" width="36.800" height="38" rx="5.500" fill="#fff" stroke="#cbcbcb" stroke-width="2"/><g transform="translate(-.6 0)"><path d="M10.700 14.700C8.500 15.500 7.800 17 7.800 18.500C7.800 20 8.500 21.500 10.700 22.300ZM29.100 14.700C31.300 15.500 32 17 32 18.500C32 20 31.300 21.500 29.100 22.300Z" fill="#cbcbcb"/><path d="M13.200 12.600C16.500 7.700 23.300 7.700 26.600 12.600L24.200 14.400C21.900 11.900 17.900 11.900 15.600 14.400Z" fill="#fff" stroke="#cbcbcb" stroke-width="1.700" stroke-linejoin="round"/><path d="M11.600 11.800V21C11.600 27 15 30.200 19.900 30.200C24.800 30.200 28.200 27 28.200 21V11.800L24.400 15C21.500 13.700 18.300 13.700 15.400 15Z" fill="#fff" stroke="#cbcbcb" stroke-width="2.100" stroke-linejoin="round"/><path d="M14.100 21.300C15.800 21 17.600 21.900 18.700 23.600C16.800 24 15 23.200 14.100 21.300ZM25.700 21.300C24 21 22.200 21.900 21.100 23.600C23 24 24.800 23.200 25.700 21.300Z" fill="#cbcbcb"/><path d="M18.200 25.400H21.600M18.200 27.400H21.600" stroke="#cbcbcb" stroke-width="1.100" fill="none"/></g></svg>
<svg class="svc" style="left:761px;top:1295px" width="40" height="40" viewBox="0 0 40 40"><rect x="1" y="1" width="38" height="38" rx="5.500" fill="#fff" stroke="#3b3b3b" stroke-width="2"/><path fill-rule="evenodd" fill="#3b3b3b" d="M13.200 12.300C14 9 16.600 7.200 20.200 7.200C24.400 7.200 26.500 9.400 26.500 13V20.300C26.500 21.600 27.200 22.500 28 23.400L25.300 25.900C24.200 25.100 23.400 24.200 22.800 23.100C21.400 25 19.600 26.100 17.200 26.100C14.200 26.100 12.100 24.200 12.100 21.100C12.100 17 15.800 15.300 22 15.200V13.600C22 11.700 21.200 10.600 19.600 10.600C18.100 10.600 17.100 11.500 16.700 13ZM22 17.900C18.900 17.900 16.800 18.600 16.800 20.800C16.800 22.300 17.600 23.200 18.900 23.200C20.800 23.200 22 21.500 22 19.200Z"/><path d="M8.200 26.800C12 30 15.800 31.600 19.600 31.600C23.300 31.600 26.800 30.300 29.600 28.200" fill="none" stroke="#3b3b3b" stroke-width="1.500" stroke-linecap="round"/><path d="M27.800 26.600C29.300 26.100 30.800 26.100 31.800 26.500C32 27.800 31.400 29.300 30.400 30.400" fill="none" stroke="#3b3b3b" stroke-width="1.200" stroke-linecap="round" stroke-linejoin="round"/></svg>
<svg class="svc" style="left:809px;top:1295px" width="40" height="40" viewBox="0 0 40 40"><rect x="1" y="1" width="38" height="38" rx="5.500" fill="#fff" stroke="#3b3b3b" stroke-width="2"/><path d="M12 21.700A8 8 0 1 1 16.800 27.200" fill="none" stroke="#3b3b3b" stroke-width="2.900"/><path d="M26.500 7.500L24.100 12.300" stroke="#3b3b3b" stroke-width="3.200" stroke-linecap="round"/><path d="M19.800 19.800L13.100 31.500" stroke="#3b3b3b" stroke-width="3.100" stroke-linecap="round"/><circle cx="19.900" cy="19.700" r="2" fill="#3b3b3b"/></svg>
<svg class="svc" style="left:857px;top:1295px" width="40" height="40" viewBox="0 0 40 40"><rect x="1" y="1" width="38" height="38" rx="5.500" fill="#fff" stroke="#3b3b3b" stroke-width="2"/><path d="M9.600 7.300h11.200a9.300 9.300 0 0 1 0 18.600h-3.800v6.200H9.600z" fill="#3b3b3b"/></svg>
<svg class="svc" style="left:905px;top:1295px" width="40" height="40" viewBox="0 0 40 40"><rect x="1" y="1" width="38" height="38" rx="5.500" fill="#fff" stroke="#3b3b3b" stroke-width="2"/><path d="M19.600 26.200V14.100c1.400-.8 2.900-1.200 4.400-1.200 3.300 0 5.800 2.400 6.200 5.500.4-.1.800-.2 1.200-.2 2 0 3.200 1.900 3.200 4 0 2.200-1.700 4-3.900 4z" fill="#3b3b3b"/><path d="M5.100 21.200v3.600M6.900 19.800v5.900M8.700 18.800v7.200M10.500 18.200v8M12.300 16.600v9.600M14.100 15.800v10.400M15.900 15.300v10.900M17.700 14.700v11.500" stroke="#3b3b3b" stroke-width="1.150" fill="none"/></svg>
<svg class="svc" style="left:953px;top:1295px" width="40" height="40" viewBox="0 0 40 40"><rect x="1" y="1" width="38" height="38" rx="5.500" fill="#fff" stroke="#3b3b3b" stroke-width="2"/><path fill-rule="evenodd" fill="#3b3b3b" d="M14.900 7.300H23C27 7.300 29.300 9.800 29 13.200C28.800 15.600 27.600 17.400 25.600 18.400C28.600 19.400 30.500 22 30.200 25.600C29.800 29.800 26.800 32.300 22.600 32.300H12.400C10.600 32.300 9.600 31.200 9.900 29.600ZM21.400 11.300a2.700 2.700 0 1 0 .010 0ZM20.600 22.400a3.100 3.100 0 1 0 .010 0Z"/><path d="M12 11.100L20.500 12.700M10 21.200L19.300 22.900" stroke="#fff" stroke-width="1.400"/></svg>
<div class="hl" style="left:560px;top:1341px;width:433px;height:2px;background:#bcbcbc"></div>
</section>
<section>
<div class="hl" style="left:1053px;top:1194px;width:432px;height:2px;background:#bcbcbc"></div>
<span style="position:absolute;left:1084.4px;transform-origin:left center;top:1223.1px;font-size:36px;line-height:36px;color:#000;white-space:nowrap;transform:scaleX(0.9817);-webkit-text-stroke:0.55px #fff;">Top Bundles</span>
<div class="hl" style="left:1053px;top:1287px;width:432px;height:2px;background:#bcbcbc"></div>
<svg class="svc" style="left:1062.2px;top:1295px" width="40" height="40" viewBox="0 0 40 40"><rect x="1" y="1" width="38" height="38" rx="5.500" fill="#fff" stroke="#3b3b3b" stroke-width="2"/><path transform="translate(7.2 7.2) scale(1.6)" fill="#3b3b3b" d="M8 0a8 8 0 1 0 0 16A8 8 0 0 0 8 0zm3.669 11.538a.498.498 0 0 1-.686.165c-1.879-1.147-4.243-1.407-7.028-.77a.499.499 0 0 1-.222-.973c3.048-.696 5.662-.397 7.77.892a.5.5 0 0 1 .166.686zm.979-2.178a.624.624 0 0 1-.858.205c-2.15-1.321-5.428-1.704-7.972-.932a.625.625 0 0 1-.362-1.194c2.905-.881 6.517-.454 8.986 1.063a.624.624 0 0 1 .206.858zm.084-2.268C10.154 5.56 5.9 5.419 3.438 6.166a.748.748 0 1 1-.434-1.432c2.825-.857 7.523-.692 10.492 1.07a.747.747 0 1 1-.764 1.288z"/></svg>
<svg class="svc" style="left:1110.2px;top:1295px" width="40" height="40" viewBox="0 0 40 40"><rect x="1" y="1" width="38" height="38" rx="5.500" fill="#fff" stroke="#3b3b3b" stroke-width="2"/><path transform="translate(7.2 7.2) scale(1.6)" fill="#3b3b3b" d="M11.182.008C11.148-.03 9.923.023 8.857 1.18c-1.066 1.156-.902 2.482-.878 2.516.024.034 1.52.087 2.475-1.258.955-1.345.762-2.391.728-2.43zm3.314 11.733c-.048-.096-2.325-1.234-2.113-3.422.212-2.189 1.675-2.789 1.698-2.854.023-.065-.597-.79-1.254-1.157a3.692 3.692 0 0 0-1.563-.434c-.108-.003-.483-.095-1.254.116-.508.139-1.653.589-1.968.607-.316.018-1.256-.522-2.267-.665-.647-.125-1.333.131-1.824.328-.49.196-1.422.754-2.074 2.237-.652 1.482-.311 3.83-.067 4.56.244.729.625 1.924 1.273 2.796.576.984 1.34 1.667 1.659 1.899.319.232 1.219.386 1.843.067.502-.308 1.408-.485 1.766-.472.357.013 1.061.154 1.782.539.571.197 1.111.115 1.652-.105.541-.221 1.324-1.059 2.238-2.758.347-.79.505-1.217.473-1.282z"/></svg>
<svg class="svc" style="left:1158.2px;top:1295px" width="40" height="40" viewBox="0 0 40 40"><rect x="1" y="1" width="38" height="38" rx="5.500" fill="#fff" stroke="#3b3b3b" stroke-width="2"/><path d="M7.200 14L8.200 13L9.200 13.500L10.100 9.800L11.300 12L12.600 8.200L14.200 11.500L16 9.900L17 15.500L17.800 16.200L19.300 13L20.800 16.200L21.600 15.500L23 9.800L24.600 12L26.300 8.200L27.800 10.500L29 10L29.800 14L29.800 18L29 21.700L27.600 21L26.300 25.800L24.800 23.500L23 28.700L21.300 27.500L19.300 32.200L17.600 26.900L16 28.700L14.300 24L12.600 25.800L11.300 21L10.100 21.700L9 18L8.200 17.600L7.200 16.500Z" fill="#3b3b3b" stroke="#3b3b3b" stroke-width=".7" stroke-linejoin="round"/><path d="M31.300 13.500V17.300" stroke="#3b3b3b" stroke-width="1.300" stroke-linecap="round"/></svg>
<svg class="svc" style="left:1206.2px;top:1295px" width="38.800" height="40" viewBox="0 0 38.800 40"><rect x="1" y="1" width="36.800" height="38" rx="5.500" fill="#fff" stroke="#cbcbcb" stroke-width="2"/><g transform="translate(-.6 0)"><path d="M10.700 14.700C8.500 15.500 7.800 17 7.800 18.500C7.800 20 8.500 21.500 10.700 22.300ZM29.100 14.700C31.300 15.500 32 17 32 18.500C32 20 31.300 21.500 29.100 22.300Z" fill="#cbcbcb"/><path d="M13.200 12.600C16.500 7.700 23.300 7.700 26.600 12.600L24.200 14.400C21.900 11.900 17.900 11.900 15.600 14.400Z" fill="#fff" stroke="#cbcbcb" stroke-width="1.700" stroke-linejoin="round"/><path d="M11.600 11.800V21C11.600 27 15 30.200 19.900 30.200C24.800 30.200 28.200 27 28.200 21V11.800L24.400 15C21.500 13.700 18.300 13.700 15.400 15Z" fill="#fff" stroke="#cbcbcb" stroke-width="2.100" stroke-linejoin="round"/><path d="M14.100 21.300C15.800 21 17.600 21.900 18.700 23.600C16.800 24 15 23.200 14.100 21.300ZM25.700 21.300C24 21 22.200 21.900 21.100 23.600C23 24 24.800 23.200 25.700 21.300Z" fill="#cbcbcb"/><path d="M18.200 25.400H21.600M18.200 27.400H21.600" stroke="#cbcbcb" stroke-width="1.100" fill="none"/></g></svg>
<svg class="svc" style="left:1253px;top:1295px" width="40" height="40" viewBox="0 0 40 40"><rect x="1" y="1" width="38" height="38" rx="5.500" fill="#fff" stroke="#3b3b3b" stroke-width="2"/><path fill-rule="evenodd" fill="#3b3b3b" d="M13.200 12.300C14 9 16.600 7.200 20.200 7.200C24.400 7.200 26.500 9.400 26.500 13V20.300C26.500 21.600 27.200 22.500 28 23.400L25.300 25.900C24.200 25.100 23.400 24.200 22.800 23.100C21.400 25 19.600 26.100 17.200 26.100C14.200 26.100 12.100 24.200 12.100 21.100C12.100 17 15.800 15.300 22 15.200V13.600C22 11.700 21.200 10.600 19.600 10.600C18.100 10.600 17.100 11.500 16.700 13ZM22 17.900C18.900 17.900 16.800 18.600 16.800 20.800C16.800 22.300 17.600 23.200 18.900 23.200C20.800 23.200 22 21.500 22 19.200Z"/><path d="M8.200 26.800C12 30 15.800 31.600 19.600 31.600C23.300 31.600 26.800 30.300 29.600 28.200" fill="none" stroke="#3b3b3b" stroke-width="1.500" stroke-linecap="round"/><path d="M27.800 26.600C29.300 26.100 30.800 26.100 31.800 26.500C32 27.800 31.400 29.300 30.400 30.400" fill="none" stroke="#3b3b3b" stroke-width="1.200" stroke-linecap="round" stroke-linejoin="round"/></svg>
<svg class="svc" style="left:1301px;top:1295px" width="40" height="40" viewBox="0 0 40 40"><rect x="1" y="1" width="38" height="38" rx="5.500" fill="#fff" stroke="#3b3b3b" stroke-width="2"/><path d="M12 21.700A8 8 0 1 1 16.800 27.200" fill="none" stroke="#3b3b3b" stroke-width="2.900"/><path d="M26.500 7.500L24.100 12.300" stroke="#3b3b3b" stroke-width="3.200" stroke-linecap="round"/><path d="M19.800 19.800L13.100 31.500" stroke="#3b3b3b" stroke-width="3.100" stroke-linecap="round"/><circle cx="19.900" cy="19.700" r="2" fill="#3b3b3b"/></svg>
<svg class="svc" style="left:1349px;top:1295px" width="40" height="40" viewBox="0 0 40 40"><rect x="1" y="1" width="38" height="38" rx="5.500" fill="#fff" stroke="#3b3b3b" stroke-width="2"/><path d="M9.600 7.300h11.200a9.300 9.300 0 0 1 0 18.600h-3.800v6.200H9.600z" fill="#3b3b3b"/></svg>
<svg class="svc" style="left:1397px;top:1295px" width="40" height="40" viewBox="0 0 40 40"><rect x="1" y="1" width="38" height="38" rx="5.500" fill="#fff" stroke="#3b3b3b" stroke-width="2"/><path d="M19.600 26.200V14.100c1.400-.8 2.900-1.200 4.400-1.200 3.300 0 5.800 2.400 6.200 5.500.4-.1.800-.2 1.200-.2 2 0 3.200 1.900 3.200 4 0 2.200-1.700 4-3.900 4z" fill="#3b3b3b"/><path d="M5.100 21.200v3.600M6.900 19.800v5.900M8.700 18.800v7.200M10.500 18.200v8M12.300 16.600v9.600M14.100 15.800v10.400M15.900 15.300v10.900M17.700 14.700v11.500" stroke="#3b3b3b" stroke-width="1.150" fill="none"/></svg>
<svg class="svc" style="left:1445px;top:1295px" width="40" height="40" viewBox="0 0 40 40"><rect x="1" y="1" width="38" height="38" rx="5.500" fill="#fff" stroke="#3b3b3b" stroke-width="2"/><path fill-rule="evenodd" fill="#3b3b3b" d="M14.900 7.300H23C27 7.300 29.300 9.800 29 13.200C28.800 15.600 27.600 17.400 25.600 18.400C28.600 19.400 30.500 22 30.200 25.600C29.800 29.800 26.800 32.300 22.600 32.300H12.400C10.600 32.300 9.600 31.200 9.900 29.600ZM21.400 11.300a2.700 2.700 0 1 0 .010 0ZM20.600 22.400a3.100 3.100 0 1 0 .010 0Z"/><path d="M12 11.100L20.500 12.700M10 21.200L19.300 22.900" stroke="#fff" stroke-width="1.400"/></svg>
<div class="hl" style="left:1053px;top:1341px;width:432px;height:2px;background:#bcbcbc"></div>
</section>
<section>
<div class="hl" style="left:1545px;top:1194px;width:433px;height:2px;background:#bcbcbc"></div>
<span style="position:absolute;left:1576.4px;transform-origin:left center;top:1223.1px;font-size:36px;line-height:36px;color:#000;white-space:nowrap;transform:scaleX(0.9647);-webkit-text-stroke:0.55px #fff;">Top Tracks</span>
<div class="hl" style="left:1545px;top:1287px;width:433px;height:2px;background:#bcbcbc"></div>
<svg class="svc" style="left:1555.2px;top:1295px" width="40" height="40" viewBox="0 0 40 40"><rect x="1" y="1" width="38" height="38" rx="5.500" fill="#fff" stroke="#3b3b3b" stroke-width="2"/><path transform="translate(7.2 7.2) scale(1.6)" fill="#3b3b3b" d="M8 0a8 8 0 1 0 0 16A8 8 0 0 0 8 0zm3.669 11.538a.498.498 0 0 1-.686.165c-1.879-1.147-4.243-1.407-7.028-.77a.499.499 0 0 1-.222-.973c3.048-.696 5.662-.397 7.77.892a.5.5 0 0 1 .166.686zm.979-2.178a.624.624 0 0 1-.858.205c-2.15-1.321-5.428-1.704-7.972-.932a.625.625 0 0 1-.362-1.194c2.905-.881 6.517-.454 8.986 1.063a.624.624 0 0 1 .206.858zm.084-2.268C10.154 5.56 5.9 5.419 3.438 6.166a.748.748 0 1 1-.434-1.432c2.825-.857 7.523-.692 10.492 1.07a.747.747 0 1 1-.764 1.288z"/></svg>
<svg class="svc" style="left:1603.2px;top:1295px" width="40" height="40" viewBox="0 0 40 40"><rect x="1" y="1" width="38" height="38" rx="5.500" fill="#fff" stroke="#3b3b3b" stroke-width="2"/><path transform="translate(7.2 7.2) scale(1.6)" fill="#3b3b3b" d="M11.182.008C11.148-.03 9.923.023 8.857 1.18c-1.066 1.156-.902 2.482-.878 2.516.024.034 1.52.087 2.475-1.258.955-1.345.762-2.391.728-2.43zm3.314 11.733c-.048-.096-2.325-1.234-2.113-3.422.212-2.189 1.675-2.789 1.698-2.854.023-.065-.597-.79-1.254-1.157a3.692 3.692 0 0 0-1.563-.434c-.108-.003-.483-.095-1.254.116-.508.139-1.653.589-1.968.607-.316.018-1.256-.522-2.267-.665-.647-.125-1.333.131-1.824.328-.49.196-1.422.754-2.074 2.237-.652 1.482-.311 3.83-.067 4.56.244.729.625 1.924 1.273 2.796.576.984 1.34 1.667 1.659 1.899.319.232 1.219.386 1.843.067.502-.308 1.408-.485 1.766-.472.357.013 1.061.154 1.782.539.571.197 1.111.115 1.652-.105.541-.221 1.324-1.059 2.238-2.758.347-.79.505-1.217.473-1.282z"/></svg>
<svg class="svc" style="left:1651.2px;top:1295px" width="40" height="40" viewBox="0 0 40 40"><rect x="1" y="1" width="38" height="38" rx="5.500" fill="#fff" stroke="#3b3b3b" stroke-width="2"/><path d="M7.200 14L8.200 13L9.200 13.500L10.100 9.800L11.300 12L12.600 8.200L14.200 11.500L16 9.900L17 15.500L17.800 16.200L19.300 13L20.800 16.200L21.600 15.500L23 9.800L24.600 12L26.300 8.200L27.800 10.500L29 10L29.800 14L29.800 18L29 21.700L27.600 21L26.300 25.800L24.800 23.500L23 28.700L21.300 27.500L19.300 32.200L17.600 26.900L16 28.700L14.300 24L12.600 25.800L11.300 21L10.100 21.700L9 18L8.200 17.600L7.200 16.500Z" fill="#3b3b3b" stroke="#3b3b3b" stroke-width=".7" stroke-linejoin="round"/><path d="M31.300 13.500V17.300" stroke="#3b3b3b" stroke-width="1.300" stroke-linecap="round"/></svg>
<svg class="svc" style="left:1699.2px;top:1295px" width="38.800" height="40" viewBox="0 0 38.800 40"><rect x="1" y="1" width="36.800" height="38" rx="5.500" fill="#fff" stroke="#cbcbcb" stroke-width="2"/><g transform="translate(-.6 0)"><path d="M10.700 14.700C8.500 15.500 7.800 17 7.800 18.500C7.800 20 8.500 21.500 10.700 22.300ZM29.100 14.700C31.300 15.500 32 17 32 18.500C32 20 31.300 21.500 29.100 22.300Z" fill="#cbcbcb"/><path d="M13.200 12.600C16.500 7.700 23.300 7.700 26.600 12.600L24.200 14.400C21.900 11.900 17.900 11.900 15.600 14.400Z" fill="#fff" stroke="#cbcbcb" stroke-width="1.700" stroke-linejoin="round"/><path d="M11.600 11.800V21C11.600 27 15 30.200 19.900 30.200C24.800 30.200 28.200 27 28.200 21V11.800L24.400 15C21.500 13.700 18.300 13.700 15.400 15Z" fill="#fff" stroke="#cbcbcb" stroke-width="2.100" stroke-linejoin="round"/><path d="M14.100 21.300C15.800 21 17.600 21.900 18.700 23.600C16.800 24 15 23.200 14.100 21.300ZM25.700 21.300C24 21 22.200 21.900 21.100 23.600C23 24 24.800 23.200 25.700 21.300Z" fill="#cbcbcb"/><path d="M18.200 25.400H21.600M18.200 27.400H21.600" stroke="#cbcbcb" stroke-width="1.100" fill="none"/></g></svg>
<svg class="svc" style="left:1746px;top:1295px" width="40" height="40" viewBox="0 0 40 40"><rect x="1" y="1" width="38" height="38" rx="5.500" fill="#fff" stroke="#3b3b3b" stroke-width="2"/><path fill-rule="evenodd" fill="#3b3b3b" d="M13.200 12.300C14 9 16.600 7.200 20.200 7.200C24.400 7.200 26.500 9.400 26.500 13V20.300C26.500 21.600 27.200 22.500 28 23.400L25.300 25.900C24.200 25.100 23.400 24.200 22.800 23.100C21.400 25 19.600 26.100 17.200 26.100C14.200 26.100 12.100 24.200 12.100 21.100C12.100 17 15.800 15.300 22 15.200V13.600C22 11.700 21.200 10.600 19.600 10.600C18.100 10.600 17.100 11.500 16.700 13ZM22 17.900C18.900 17.900 16.800 18.600 16.800 20.800C16.800 22.300 17.600 23.200 18.900 23.200C20.800 23.200 22 21.500 22 19.200Z"/><path d="M8.200 26.800C12 30 15.800 31.600 19.600 31.600C23.300 31.600 26.800 30.300 29.600 28.200" fill="none" stroke="#3b3b3b" stroke-width="1.500" stroke-linecap="round"/><path d="M27.800 26.600C29.300 26.100 30.800 26.100 31.800 26.500C32 27.800 31.400 29.300 30.400 30.400" fill="none" stroke="#3b3b3b" stroke-width="1.200" stroke-linecap="round" stroke-linejoin="round"/></svg>
<svg class="svc" style="left:1794px;top:1295px" width="40" height="40" viewBox="0 0 40 40"><rect x="1" y="1" width="38" height="38" rx="5.500" fill="#fff" stroke="#3b3b3b" stroke-width="2"/><path d="M12 21.700A8 8 0 1 1 16.800 27.200" fill="none" stroke="#3b3b3b" stroke-width="2.900"/><path d="M26.500 7.500L24.100 12.300" stroke="#3b3b3b" stroke-width="3.200" stroke-linecap="round"/><path d="M19.800 19.800L13.100 31.500" stroke="#3b3b3b" stroke-width="3.100" stroke-linecap="round"/><circle cx="19.900" cy="19.700" r="2" fill="#3b3b3b"/></svg>
<svg class="svc" style="left:1842px;top:1295px" width="40" height="40" viewBox="0 0 40 40"><rect x="1" y="1" width="38" height="38" rx="5.500" fill="#fff" stroke="#3b3b3b" stroke-width="2"/><path d="M9.600 7.300h11.200a9.300 9.300 0 0 1 0 18.600h-3.800v6.200H9.600z" fill="#3b3b3b"/></svg>
<svg class="svc" style="left:1890px;top:1295px" width="40" height="40" viewBox="0 0 40 40"><rect x="1" y="1" width="38" height="38" rx="5.500" fill="#fff" stroke="#3b3b3b" stroke-width="2"/><path d="M19.600 26.200V14.100c1.400-.8 2.900-1.200 4.400-1.200 3.300 0 5.800 2.400 6.200 5.500.4-.1.800-.2 1.200-.2 2 0 3.200 1.900 3.200 4 0 2.200-1.700 4-3.900 4z" fill="#3b3b3b"/><path d="M5.100 21.200v3.600M6.900 19.800v5.900M8.700 18.800v7.200M10.500 18.200v8M12.300 16.600v9.600M14.100 15.800v10.400M15.900 15.300v10.900M17.700 14.700v11.500" stroke="#3b3b3b" stroke-width="1.150" fill="none"/></svg>
<svg class="svc" style="left:1938px;top:1295px" width="40" height="40" viewBox="0 0 40 40"><rect x="1" y="1" width="38" height="38" rx="5.500" fill="#fff" stroke="#3b3b3b" stroke-width="2"/><path fill-rule="evenodd" fill="#3b3b3b" d="M14.900 7.300H23C27 7.300 29.300 9.800 29 13.200C28.800 15.600 27.600 17.400 25.600 18.400C28.600 19.400 30.500 22 30.200 25.600C29.800 29.800 26.800 32.300 22.600 32.300H12.400C10.600 32.300 9.600 31.200 9.900 29.600ZM21.400 11.300a2.700 2.700 0 1 0 .010 0ZM20.600 22.400a3.100 3.100 0 1 0 .010 0Z"/><path d="M12 11.100L20.500 12.700M10 21.200L19.300 22.900" stroke="#fff" stroke-width="1.400"/></svg>
<div class="hl" style="left:1545px;top:1341px;width:433px;height:2px;background:#bcbcbc"></div>
</section>
<section>
<div class="hl" style="left:2038px;top:1194px;width:432px;height:2px;background:#bcbcbc"></div>
<span style="position:absolute;left:2069.4px;transform-origin:left center;top:1223.1px;font-size:36px;line-height:36px;color:#000;white-space:nowrap;transform:scaleX(0.9562);-webkit-text-stroke:0.55px #fff;">Top Playlists</span>
<div class="hl" style="left:2038px;top:1287px;width:432px;height:2px;background:#bcbcbc"></div>
<svg class="svc" style="left:2142px;top:1295px" width="40" height="40" viewBox="0 0 40 40"><rect x="1" y="1" width="38" height="38" rx="5.500" fill="#fff" stroke="#3b3b3b" stroke-width="2"/><path transform="translate(7.2 7.2) scale(1.6)" fill="#3b3b3b" d="M8 0a8 8 0 1 0 0 16A8 8 0 0 0 8 0zm3.669 11.538a.498.498 0 0 1-.686.165c-1.879-1.147-4.243-1.407-7.028-.77a.499.499 0 0 1-.222-.973c3.048-.696 5.662-.397 7.77.892a.5.5 0 0 1 .166.686zm.979-2.178a.624.624 0 0 1-.858.205c-2.15-1.321-5.428-1.704-7.972-.932a.625.625 0 0 1-.362-1.194c2.905-.881 6.517-.454 8.986 1.063a.624.624 0 0 1 .206.858zm.084-2.268C10.154 5.56 5.9 5.419 3.438 6.166a.748.748 0 1 1-.434-1.432c2.825-.857 7.523-.692 10.492 1.07a.747.747 0 1 1-.764 1.288z"/></svg>
<svg class="svc" style="left:2190px;top:1295px" width="40" height="40" viewBox="0 0 40 40"><rect x="1" y="1" width="38" height="38" rx="5.500" fill="#fff" stroke="#3b3b3b" stroke-width="2"/><path transform="translate(7.2 7.2) scale(1.6)" fill="#3b3b3b" d="M11.182.008C11.148-.03 9.923.023 8.857 1.18c-1.066 1.156-.902 2.482-.878 2.516.024.034 1.52.087 2.475-1.258.955-1.345.762-2.391.728-2.43zm3.314 11.733c-.048-.096-2.325-1.234-2.113-3.422.212-2.189 1.675-2.789 1.698-2.854.023-.065-.597-.79-1.254-1.157a3.692 3.692 0 0 0-1.563-.434c-.108-.003-.483-.095-1.254.116-.508.139-1.653.589-1.968.607-.316.018-1.256-.522-2.267-.665-.647-.125-1.333.131-1.824.328-.49.196-1.422.754-2.074 2.237-.652 1.482-.311 3.83-.067 4.56.244.729.625 1.924 1.273 2.796.576.984 1.34 1.667 1.659 1.899.319.232 1.219.386 1.843.067.502-.308 1.408-.485 1.766-.472.357.013 1.061.154 1.782.539.571.197 1.111.115 1.652-.105.541-.221 1.324-1.059 2.238-2.758.347-.79.505-1.217.473-1.282z"/></svg>
<svg class="svc" style="left:2238px;top:1295px" width="40" height="40" viewBox="0 0 40 40"><rect x="1" y="1" width="38" height="38" rx="5.500" fill="#fff" stroke="#3b3b3b" stroke-width="2"/><path d="M7.200 14L8.200 13L9.200 13.500L10.100 9.800L11.300 12L12.600 8.200L14.200 11.500L16 9.900L17 15.500L17.800 16.200L19.300 13L20.800 16.200L21.600 15.500L23 9.800L24.600 12L26.300 8.200L27.800 10.500L29 10L29.800 14L29.800 18L29 21.700L27.600 21L26.300 25.800L24.800 23.500L23 28.700L21.300 27.500L19.300 32.200L17.600 26.900L16 28.700L14.300 24L12.600 25.800L11.300 21L10.100 21.700L9 18L8.200 17.600L7.200 16.500Z" fill="#3b3b3b" stroke="#3b3b3b" stroke-width=".7" stroke-linejoin="round"/><path d="M31.300 13.500V17.300" stroke="#3b3b3b" stroke-width="1.300" stroke-linecap="round"/></svg>
<svg class="svc" style="left:2286px;top:1295px" width="40" height="40" viewBox="0 0 40 40"><rect x="1" y="1" width="38" height="38" rx="5.500" fill="#fff" stroke="#3b3b3b" stroke-width="2"/><path fill-rule="evenodd" fill="#3b3b3b" d="M13.200 12.300C14 9 16.600 7.200 20.200 7.200C24.400 7.200 26.500 9.400 26.500 13V20.300C26.500 21.600 27.200 22.500 28 23.400L25.300 25.900C24.200 25.100 23.400 24.200 22.800 23.100C21.400 25 19.600 26.100 17.200 26.100C14.200 26.100 12.100 24.200 12.100 21.100C12.100 17 15.800 15.300 22 15.200V13.600C22 11.700 21.200 10.600 19.600 10.600C18.100 10.600 17.100 11.500 16.700 13ZM22 17.900C18.900 17.900 16.800 18.600 16.800 20.800C16.800 22.300 17.600 23.200 18.900 23.200C20.800 23.200 22 21.500 22 19.200Z"/><path d="M8.200 26.800C12 30 15.800 31.600 19.600 31.600C23.300 31.600 26.800 30.300 29.600 28.200" fill="none" stroke="#3b3b3b" stroke-width="1.500" stroke-linecap="round"/><path d="M27.800 26.600C29.300 26.100 30.800 26.100 31.800 26.500C32 27.800 31.400 29.300 30.400 30.400" fill="none" stroke="#3b3b3b" stroke-width="1.200" stroke-linecap="round" stroke-linejoin="round"/></svg>
<svg class="svc" style="left:2334px;top:1295px" width="40" height="40" viewBox="0 0 40 40"><rect x="1" y="1" width="38" height="38" rx="5.500" fill="#fff" stroke="#3b3b3b" stroke-width="2"/><path d="M9.600 7.300h11.200a9.300 9.300 0 0 1 0 18.600h-3.800v6.200H9.600z" fill="#3b3b3b"/></svg>
<svg class="svc" style="left:2382px;top:1295px" width="40" height="40" viewBox="0 0 40 40"><rect x="1" y="1" width="38" height="38" rx="5.500" fill="#fff" stroke="#3b3b3b" stroke-width="2"/><path d="M19.600 26.200V14.100c1.400-.8 2.900-1.200 4.400-1.200 3.300 0 5.800 2.400 6.200 5.500.4-.1.800-.2 1.200-.2 2 0 3.200 1.900 3.200 4 0 2.200-1.700 4-3.900 4z" fill="#3b3b3b"/><path d="M5.100 21.200v3.600M6.900 19.800v5.900M8.700 18.800v7.200M10.500 18.200v8M12.300 16.600v9.600M14.100 15.800v10.400M15.900 15.300v10.900M17.700 14.700v11.500" stroke="#3b3b3b" stroke-width="1.150" fill="none"/></svg>
<svg class="svc" style="left:2430px;top:1295px" width="40" height="40" viewBox="0 0 40 40"><rect x="1" y="1" width="38" height="38" rx="5.500" fill="#fff" stroke="#3b3b3b" stroke-width="2"/><path fill-rule="evenodd" fill="#3b3b3b" d="M14.900 7.300H23C27 7.300 29.300 9.800 29 13.200C28.800 15.600 27.600 17.400 25.600 18.400C28.600 19.400 30.500 22 30.200 25.600C29.800 29.800 26.800 32.300 22.600 32.300H12.400C10.600 32.300 9.600 31.200 9.900 29.600ZM21.400 11.300a2.700 2.700 0 1 0 .010 0ZM20.600 22.400a3.100 3.100 0 1 0 .010 0Z"/><path d="M12 11.100L20.500 12.700M10 21.200L19.300 22.900" stroke="#fff" stroke-width="1.400"/></svg>
<div class="hl" style="left:2038px;top:1341px;width:432px;height:2px;background:#bcbcbc"></div>
</section>
</main>
<footer>
<div class="hl" style="left:560px;top:1359px;width:1910px;height:2px;background:#bcbcbc"></div>
<span style="position:absolute;left:559.0px;transform-origin:left center;top:1387.1px;font-size:28px;line-height:28px;color:#444;white-space:nowrap;transform:scaleX(1.0202);">Demo</span>
<span style="position:absolute;left:692.3px;transform-origin:left center;top:1387.1px;font-size:28px;line-height:28px;color:#444;white-space:nowrap;transform:scaleX(0.9929);">Sign out</span>
<span style="position:absolute;left:878.8px;transform-origin:left center;top:1387.1px;font-size:28px;line-height:28px;color:#444;white-space:nowrap;">Dark</span>
<span style="position:absolute;left:1002.3px;transform-origin:left center;top:1387.1px;font-size:28px;line-height:28px;color:#444;white-space:nowrap;transform:scaleX(1.0208);">German</span>
<span style="position:absolute;left:1167.9px;transform-origin:left center;top:1387.1px;font-size:28px;line-height:28px;color:#444;white-space:nowrap;transform:scaleX(1.0238);">Legal Notice</span>
<span style="position:absolute;left:1391.5px;transform-origin:left center;top:1387.1px;font-size:28px;line-height:28px;color:#444;white-space:nowrap;transform:scaleX(0.9955);">Privacy</span>
<span style="position:absolute;left:2379.3px;transform-origin:left center;top:1387.1px;font-size:28px;line-height:28px;color:#444;white-space:nowrap;transform:scaleX(0.9823);">Version</span>
</footer>
</body></html>
